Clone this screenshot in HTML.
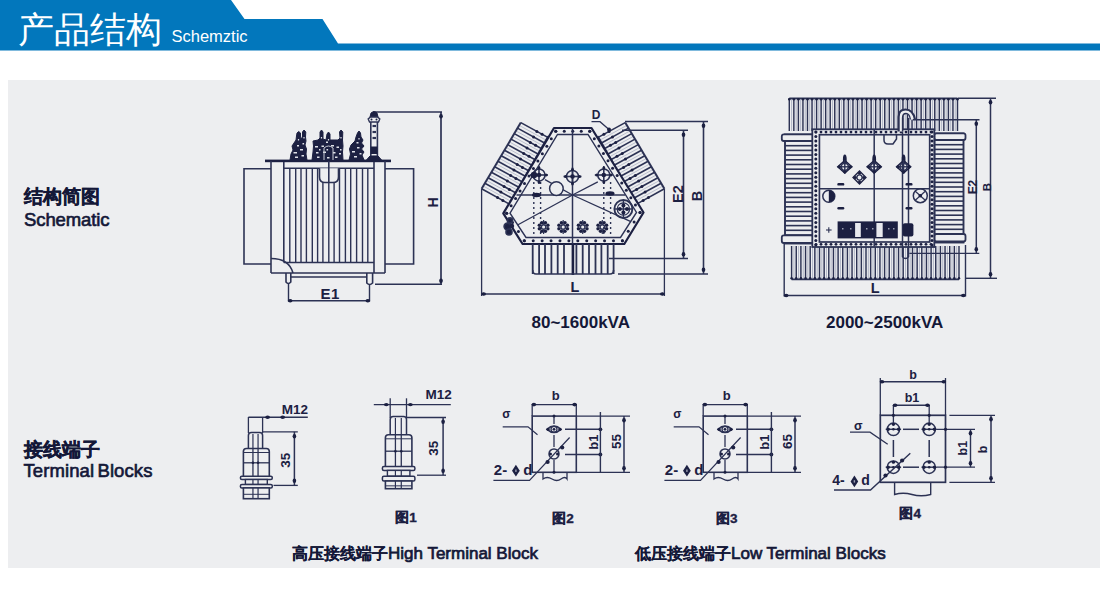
<!DOCTYPE html>
<html><head><meta charset="utf-8">
<style>
html,body{margin:0;padding:0;background:#fff;width:1100px;height:598px;overflow:hidden}
body{position:relative;font-family:"Liberation Sans",sans-serif}
svg{position:absolute;left:0;top:0}
svg text{font-family:"Liberation Sans",sans-serif}
.t{position:absolute;white-space:nowrap;line-height:1;color:#141838}
</style></head><body>
<svg width="1100" height="598" viewBox="0 0 1100 598">
<polygon points="0,0 231,0 244.5,19 322.5,19 338,43.6 1100,43.6 1100,50.5 0,50.5" fill="#0277bc"/>
<rect x="8" y="80" width="1092" height="488" fill="#edeef0"/>
<path d="M271 168.7 H244 V264 H271" fill="none" stroke="#2c3254" stroke-width="1.6" />
<path d="M385 168.7 H413.6 V264 H385" fill="none" stroke="#2c3254" stroke-width="1.6" />
<rect x="265.00" y="159.60" width="126.00" height="2.60" rx="0" fill="#1c2042" stroke="#2c3254" stroke-width="0"/>
<line x1="271.00" y1="161.00" x2="271.00" y2="273.00" stroke="#2c3254" stroke-width="1.6" />
<line x1="385.00" y1="161.00" x2="385.00" y2="273.00" stroke="#2c3254" stroke-width="1.6" />
<line x1="283.80" y1="162.00" x2="283.80" y2="262.50" stroke="#2c3254" stroke-width="1.6" />
<line x1="374.00" y1="162.00" x2="374.00" y2="273.00" stroke="#2c3254" stroke-width="1.6" />
<line x1="283.80" y1="168.20" x2="374.00" y2="168.20" stroke="#2c3254" stroke-width="1.6" />
<line x1="289.80" y1="168.00" x2="289.80" y2="262.50" stroke="#2c3254" stroke-width="1.4" />
<line x1="295.70" y1="168.00" x2="295.70" y2="262.50" stroke="#2c3254" stroke-width="1.4" />
<line x1="301.00" y1="168.00" x2="301.00" y2="262.50" stroke="#2c3254" stroke-width="1.4" />
<line x1="306.40" y1="168.00" x2="306.40" y2="262.50" stroke="#2c3254" stroke-width="1.4" />
<line x1="312.30" y1="168.00" x2="312.30" y2="262.50" stroke="#2c3254" stroke-width="1.4" />
<line x1="317.60" y1="168.00" x2="317.60" y2="262.50" stroke="#2c3254" stroke-width="1.4" />
<line x1="322.90" y1="168.00" x2="322.90" y2="262.50" stroke="#2c3254" stroke-width="1.4" />
<line x1="328.80" y1="168.00" x2="328.80" y2="262.50" stroke="#2c3254" stroke-width="1.4" />
<line x1="334.10" y1="168.00" x2="334.10" y2="262.50" stroke="#2c3254" stroke-width="1.4" />
<line x1="339.50" y1="168.00" x2="339.50" y2="262.50" stroke="#2c3254" stroke-width="1.4" />
<line x1="345.40" y1="168.00" x2="345.40" y2="262.50" stroke="#2c3254" stroke-width="1.4" />
<line x1="350.70" y1="168.00" x2="350.70" y2="262.50" stroke="#2c3254" stroke-width="1.4" />
<line x1="356.60" y1="168.00" x2="356.60" y2="262.50" stroke="#2c3254" stroke-width="1.4" />
<line x1="362.50" y1="168.00" x2="362.50" y2="262.50" stroke="#2c3254" stroke-width="1.4" />
<line x1="367.80" y1="168.00" x2="367.80" y2="262.50" stroke="#2c3254" stroke-width="1.4" />
<line x1="283.80" y1="262.50" x2="374.00" y2="262.50" stroke="#2c3254" stroke-width="1.6" />
<path d="M319.5 168.2 V177 Q319.5 182.5 325 182.5 H333 Q338.5 182.5 338.5 177 V168.2" fill="#edeef0" stroke="#2c3254" stroke-width="1.6" />
<line x1="328.80" y1="161.00" x2="328.80" y2="182.50" stroke="#2c3254" stroke-width="1.6" />
<path d="M271 258.5 Q289 258.5 293 273" fill="none" stroke="#2c3254" stroke-width="1.6" />
<line x1="271.00" y1="273.00" x2="385.00" y2="273.00" stroke="#2c3254" stroke-width="1.6" />
<line x1="290.00" y1="277.00" x2="367.00" y2="277.00" stroke="#2c3254" stroke-width="1.3" />
<path d="M286 273 V282 Q288.3 285 290.8 282 V273" fill="none" stroke="#2c3254" stroke-width="1.6" />
<path d="M366.8 273 V283 Q369.6 286 372.6 283 V273" fill="none" stroke="#2c3254" stroke-width="1.6" />
<line x1="288.50" y1="283.00" x2="288.50" y2="301.50" stroke="#2c3254" stroke-width="1.4" />
<line x1="369.50" y1="285.00" x2="369.50" y2="301.50" stroke="#2c3254" stroke-width="1.4" />
<line x1="288.50" y1="300.70" x2="369.50" y2="300.70" stroke="#2c3254" stroke-width="1.5" />
<ellipse cx="290.20" cy="300.7" rx="2.3" ry="1.8" fill="#1c2042"/>
<path d="M288.20 300.7 L290.20 299.2 L290.20 302.2 Z" fill="#1c2042"/>
<ellipse cx="367.80" cy="300.7" rx="2.3" ry="1.8" fill="#1c2042"/>
<path d="M369.80 300.7 L367.80 299.2 L367.80 302.2 Z" fill="#1c2042"/>
<text x="330.3" y="299.2" font-size="15" font-weight="bold" text-anchor="middle" fill="#1c2042" letter-spacing="0.6">E1</text>
<line x1="373.00" y1="112.00" x2="442.00" y2="112.00" stroke="#2c3254" stroke-width="1.5" />
<line x1="441.00" y1="112.00" x2="441.00" y2="284.50" stroke="#2c3254" stroke-width="1.7" />
<line x1="375.00" y1="284.20" x2="442.00" y2="284.20" stroke="#2c3254" stroke-width="1.5" />
<ellipse cx="441" cy="116.20" rx="1.8" ry="2.3" fill="#1c2042"/>
<path d="M441 114.20 L439.5 116.20 L442.5 116.20 Z" fill="#1c2042"/>
<ellipse cx="441" cy="280.80" rx="1.8" ry="2.3" fill="#1c2042"/>
<path d="M441 282.80 L439.5 280.80 L442.5 280.80 Z" fill="#1c2042"/>
<text x="437.5" y="202.5" font-size="14" font-weight="bold" text-anchor="middle" fill="#1c2042" transform="rotate(-90 437.5 202.5)" >H</text>
<path d="M370.8 160 V122 M377.4 160 V122" fill="none" stroke="#2c3254" stroke-width="1.6" />
<path d="M370 117 L371 113 L373 111.8 L375 111.8 L377 113 L378 117 Z" fill="#1c2042" stroke="#1c2042" stroke-width="1" stroke-linejoin="round"/>
<path d="M369.5 122 L368.2 119 L370.5 117 H377.5 L379.8 119 L378.5 122 Z" fill="#edeef0" stroke="#2c3254" stroke-width="1.4" />
<circle cx="371.50" cy="119.50" r="1.00" fill="#1c2042"/>
<circle cx="376.50" cy="119.50" r="1.00" fill="#1c2042"/>
<line x1="372.50" y1="126.00" x2="376.00" y2="126.00" stroke="#2c3254" stroke-width="2.2" />
<line x1="372.50" y1="132.00" x2="376.00" y2="132.00" stroke="#2c3254" stroke-width="2.2" />
<line x1="372.50" y1="138.00" x2="376.00" y2="138.00" stroke="#2c3254" stroke-width="2.2" />
<rect x="370.80" y="146.50" width="6.60" height="7.50" rx="0" fill="#1c2042" stroke="#2c3254" stroke-width="0"/>
<line x1="372.50" y1="155.50" x2="376.00" y2="155.50" stroke="#d0d2dc" stroke-width="1.2" />
<path d="M366 160.5 L370 156 L378 156 L382 160.5 Z" fill="#1c2042" stroke="#1c2042" stroke-width="1" stroke-linejoin="round"/>
<path d="M290 160 L291 154 L293 150 L292 146 L294 143 L296 140 L296.5 136 L297 133 L298.7 131.5 L300.5 133 L300.5 136 L301 139 L302.5 137 L302.5 132 L304 130 L305.8 132 L305.5 137 L306 141 L305 145 L306.5 149 L306 154 L307 160 Z" fill="#1c2042" stroke="#1c2042" stroke-width="1" stroke-linejoin="round"/>
<path d="M312 160 L313 152 L313.5 146 L313 141 L318 140 L320 138 L320 132 L321.5 130 L323 132 L323 139 L326 140 L327 134 L328.5 132 L330 134 L330 140 L335 140 L338 140 L340 138 L339.5 132 L341 130 L342.8 132 L342.5 140 L343 146 L342.5 152 L343 160 Z" fill="#1c2042" stroke="#1c2042" stroke-width="1" stroke-linejoin="round"/>
<path d="M349 160 L350.5 154 L349.5 149 L351 145 L355 141 L356 137 L357.5 133 L359 131 L360.5 133 L361 137 L363 140 L361.5 143 L364 146 L361.5 149 L364 152 L362 155 L364 160 Z" fill="#1c2042" stroke="#1c2042" stroke-width="1" stroke-linejoin="round"/>
<rect x="293.5" y="152" width="3.5" height="1.5" fill="#dfe1e8"/>
<rect x="300" y="149" width="3" height="1.5" fill="#dfe1e8"/>
<rect x="295" y="156.5" width="3" height="1.5" fill="#dfe1e8"/>
<rect x="301.5" y="155" width="2.5" height="1.5" fill="#dfe1e8"/>
<rect x="297" y="145" width="2" height="1.5" fill="#dfe1e8"/>
<rect x="302.5" y="143" width="1.6" height="1.5" fill="#dfe1e8"/>
<rect x="315" y="146" width="3" height="1.5" fill="#dfe1e8"/>
<rect x="321.5" y="145.5" width="2.5" height="1.5" fill="#dfe1e8"/>
<rect x="331" y="145" width="3" height="1.5" fill="#dfe1e8"/>
<rect x="336.5" y="146.5" width="2.5" height="1.5" fill="#dfe1e8"/>
<rect x="316" y="152" width="2.5" height="1.5" fill="#dfe1e8"/>
<rect x="323" y="151.5" width="3" height="1.5" fill="#dfe1e8"/>
<rect x="333" y="152" width="2.5" height="1.5" fill="#dfe1e8"/>
<rect x="339" y="153" width="2" height="1.5" fill="#dfe1e8"/>
<rect x="317" y="156.5" width="2.5" height="1.5" fill="#dfe1e8"/>
<rect x="327" y="157" width="2.5" height="1.5" fill="#dfe1e8"/>
<rect x="335" y="156.5" width="2.5" height="1.5" fill="#dfe1e8"/>
<rect x="326" y="141.5" width="2" height="1.5" fill="#dfe1e8"/>
<rect x="326.5" y="149" width="1.6" height="1.5" fill="#dfe1e8"/>
<rect x="319" y="149" width="1.5" height="1.5" fill="#dfe1e8"/>
<rect x="340" y="149" width="1.5" height="1.5" fill="#dfe1e8"/>
<rect x="352" y="151" width="3" height="1.5" fill="#dfe1e8"/>
<rect x="357" y="147" width="2.5" height="1.5" fill="#dfe1e8"/>
<rect x="354" y="156" width="3" height="1.5" fill="#dfe1e8"/>
<rect x="359.5" y="153" width="2" height="1.5" fill="#dfe1e8"/>
<rect x="356.5" y="142" width="2" height="1.5" fill="#dfe1e8"/>
<rect x="297.9" y="139" width="1.2" height="1.5" fill="#dfe1e8"/>
<rect x="303.4" y="137" width="1.2" height="1.5" fill="#dfe1e8"/>
<rect x="320.9" y="137" width="1.2" height="1.5" fill="#dfe1e8"/>
<rect x="340.4" y="137" width="1.2" height="1.5" fill="#dfe1e8"/>
<rect x="327.9" y="139" width="1.2" height="1.5" fill="#dfe1e8"/>
<rect x="358.4" y="138" width="1.2" height="1.5" fill="#dfe1e8"/>
<path d="M324 160 V148 Q328.5 144 333 148 V160" fill="none" stroke="#c8cbd6" stroke-width="1.0" />
<line x1="520.80" y1="122.60" x2="548.26" y2="137.67" stroke="#2c3254" stroke-width="1.6" />
<line x1="519.17" y1="125.36" x2="546.62" y2="140.43" stroke="#bcc0ce" stroke-width="1.0" />
<line x1="517.53" y1="128.12" x2="544.99" y2="143.18" stroke="#2c3254" stroke-width="1.6" />
<line x1="515.90" y1="130.88" x2="543.35" y2="145.94" stroke="#bcc0ce" stroke-width="1.0" />
<line x1="514.27" y1="133.63" x2="541.71" y2="148.70" stroke="#2c3254" stroke-width="1.6" />
<line x1="512.63" y1="136.39" x2="540.08" y2="151.45" stroke="#bcc0ce" stroke-width="1.0" />
<line x1="511.00" y1="139.15" x2="538.44" y2="154.21" stroke="#2c3254" stroke-width="1.6" />
<line x1="509.37" y1="141.91" x2="536.80" y2="156.97" stroke="#bcc0ce" stroke-width="1.0" />
<line x1="507.73" y1="144.67" x2="535.17" y2="159.72" stroke="#2c3254" stroke-width="1.6" />
<line x1="506.10" y1="147.43" x2="533.53" y2="162.48" stroke="#bcc0ce" stroke-width="1.0" />
<line x1="504.47" y1="150.18" x2="531.89" y2="165.24" stroke="#2c3254" stroke-width="1.6" />
<line x1="502.83" y1="152.94" x2="530.26" y2="167.99" stroke="#bcc0ce" stroke-width="1.0" />
<line x1="501.20" y1="155.70" x2="528.62" y2="170.75" stroke="#2c3254" stroke-width="1.6" />
<line x1="499.57" y1="158.46" x2="526.98" y2="173.51" stroke="#bcc0ce" stroke-width="1.0" />
<line x1="497.93" y1="161.22" x2="525.35" y2="176.26" stroke="#2c3254" stroke-width="1.6" />
<line x1="496.30" y1="163.98" x2="523.71" y2="179.02" stroke="#bcc0ce" stroke-width="1.0" />
<line x1="494.67" y1="166.73" x2="522.07" y2="181.78" stroke="#2c3254" stroke-width="1.6" />
<line x1="493.03" y1="169.49" x2="520.44" y2="184.53" stroke="#bcc0ce" stroke-width="1.0" />
<line x1="491.40" y1="172.25" x2="518.80" y2="187.29" stroke="#2c3254" stroke-width="1.6" />
<line x1="489.77" y1="175.01" x2="517.16" y2="190.05" stroke="#bcc0ce" stroke-width="1.0" />
<line x1="488.13" y1="177.77" x2="515.53" y2="192.80" stroke="#2c3254" stroke-width="1.6" />
<line x1="486.50" y1="180.53" x2="513.89" y2="195.56" stroke="#bcc0ce" stroke-width="1.0" />
<line x1="484.87" y1="183.28" x2="512.26" y2="198.32" stroke="#2c3254" stroke-width="1.6" />
<line x1="483.23" y1="186.04" x2="510.62" y2="201.07" stroke="#bcc0ce" stroke-width="1.0" />
<line x1="481.60" y1="188.80" x2="508.98" y2="203.83" stroke="#2c3254" stroke-width="1.6" />
<line x1="520.80" y1="122.60" x2="481.60" y2="188.80" stroke="#2c3254" stroke-width="2.0" />
<circle cx="542.12" cy="134.30" r="1.50" fill="#1c2042"/>
<circle cx="536.86" cy="131.42" r="1.50" fill="#1c2042"/>
<circle cx="533.59" cy="136.93" r="1.50" fill="#1c2042"/>
<circle cx="535.58" cy="145.33" r="1.50" fill="#1c2042"/>
<circle cx="530.32" cy="142.44" r="1.50" fill="#1c2042"/>
<circle cx="527.04" cy="147.96" r="1.50" fill="#1c2042"/>
<circle cx="529.03" cy="156.36" r="1.50" fill="#1c2042"/>
<circle cx="523.77" cy="153.47" r="1.50" fill="#1c2042"/>
<circle cx="520.50" cy="158.98" r="1.50" fill="#1c2042"/>
<circle cx="522.48" cy="167.38" r="1.50" fill="#1c2042"/>
<circle cx="517.22" cy="164.50" r="1.50" fill="#1c2042"/>
<circle cx="513.95" cy="170.01" r="1.50" fill="#1c2042"/>
<circle cx="515.94" cy="178.41" r="1.50" fill="#1c2042"/>
<circle cx="510.68" cy="175.52" r="1.50" fill="#1c2042"/>
<circle cx="507.40" cy="181.03" r="1.50" fill="#1c2042"/>
<circle cx="509.39" cy="189.43" r="1.50" fill="#1c2042"/>
<circle cx="504.13" cy="186.55" r="1.50" fill="#1c2042"/>
<circle cx="500.86" cy="192.06" r="1.50" fill="#1c2042"/>
<circle cx="502.85" cy="200.46" r="1.50" fill="#1c2042"/>
<circle cx="497.59" cy="197.57" r="1.50" fill="#1c2042"/>
<line x1="548.00" y1="136.00" x2="510.00" y2="203.00" stroke="#2c3254" stroke-width="1.4" />
<line x1="481.60" y1="188.80" x2="481.60" y2="296.00" stroke="#2c3254" stroke-width="1.3" />
<line x1="625.20" y1="122.60" x2="597.74" y2="137.67" stroke="#2c3254" stroke-width="1.6" />
<line x1="626.83" y1="125.36" x2="599.38" y2="140.43" stroke="#bcc0ce" stroke-width="1.0" />
<line x1="628.47" y1="128.12" x2="601.01" y2="143.18" stroke="#2c3254" stroke-width="1.6" />
<line x1="630.10" y1="130.88" x2="602.65" y2="145.94" stroke="#bcc0ce" stroke-width="1.0" />
<line x1="631.73" y1="133.63" x2="604.29" y2="148.70" stroke="#2c3254" stroke-width="1.6" />
<line x1="633.37" y1="136.39" x2="605.92" y2="151.45" stroke="#bcc0ce" stroke-width="1.0" />
<line x1="635.00" y1="139.15" x2="607.56" y2="154.21" stroke="#2c3254" stroke-width="1.6" />
<line x1="636.63" y1="141.91" x2="609.20" y2="156.97" stroke="#bcc0ce" stroke-width="1.0" />
<line x1="638.27" y1="144.67" x2="610.83" y2="159.72" stroke="#2c3254" stroke-width="1.6" />
<line x1="639.90" y1="147.43" x2="612.47" y2="162.48" stroke="#bcc0ce" stroke-width="1.0" />
<line x1="641.53" y1="150.18" x2="614.11" y2="165.24" stroke="#2c3254" stroke-width="1.6" />
<line x1="643.17" y1="152.94" x2="615.74" y2="167.99" stroke="#bcc0ce" stroke-width="1.0" />
<line x1="644.80" y1="155.70" x2="617.38" y2="170.75" stroke="#2c3254" stroke-width="1.6" />
<line x1="646.43" y1="158.46" x2="619.02" y2="173.51" stroke="#bcc0ce" stroke-width="1.0" />
<line x1="648.07" y1="161.22" x2="620.65" y2="176.26" stroke="#2c3254" stroke-width="1.6" />
<line x1="649.70" y1="163.98" x2="622.29" y2="179.02" stroke="#bcc0ce" stroke-width="1.0" />
<line x1="651.33" y1="166.73" x2="623.93" y2="181.78" stroke="#2c3254" stroke-width="1.6" />
<line x1="652.97" y1="169.49" x2="625.56" y2="184.53" stroke="#bcc0ce" stroke-width="1.0" />
<line x1="654.60" y1="172.25" x2="627.20" y2="187.29" stroke="#2c3254" stroke-width="1.6" />
<line x1="656.23" y1="175.01" x2="628.84" y2="190.05" stroke="#bcc0ce" stroke-width="1.0" />
<line x1="657.87" y1="177.77" x2="630.47" y2="192.80" stroke="#2c3254" stroke-width="1.6" />
<line x1="659.50" y1="180.53" x2="632.11" y2="195.56" stroke="#bcc0ce" stroke-width="1.0" />
<line x1="661.13" y1="183.28" x2="633.74" y2="198.32" stroke="#2c3254" stroke-width="1.6" />
<line x1="662.77" y1="186.04" x2="635.38" y2="201.07" stroke="#bcc0ce" stroke-width="1.0" />
<line x1="664.40" y1="188.80" x2="637.02" y2="203.83" stroke="#2c3254" stroke-width="1.6" />
<line x1="625.20" y1="122.60" x2="664.40" y2="188.80" stroke="#2c3254" stroke-width="2.0" />
<circle cx="603.88" cy="134.30" r="1.50" fill="#1c2042"/>
<circle cx="609.14" cy="131.42" r="1.50" fill="#1c2042"/>
<circle cx="612.41" cy="136.93" r="1.50" fill="#1c2042"/>
<circle cx="610.42" cy="145.33" r="1.50" fill="#1c2042"/>
<circle cx="615.68" cy="142.44" r="1.50" fill="#1c2042"/>
<circle cx="618.96" cy="147.96" r="1.50" fill="#1c2042"/>
<circle cx="616.97" cy="156.36" r="1.50" fill="#1c2042"/>
<circle cx="622.23" cy="153.47" r="1.50" fill="#1c2042"/>
<circle cx="625.50" cy="158.98" r="1.50" fill="#1c2042"/>
<circle cx="623.52" cy="167.38" r="1.50" fill="#1c2042"/>
<circle cx="628.78" cy="164.50" r="1.50" fill="#1c2042"/>
<circle cx="632.05" cy="170.01" r="1.50" fill="#1c2042"/>
<circle cx="630.06" cy="178.41" r="1.50" fill="#1c2042"/>
<circle cx="635.32" cy="175.52" r="1.50" fill="#1c2042"/>
<circle cx="638.60" cy="181.03" r="1.50" fill="#1c2042"/>
<circle cx="636.61" cy="189.43" r="1.50" fill="#1c2042"/>
<circle cx="641.87" cy="186.55" r="1.50" fill="#1c2042"/>
<circle cx="645.14" cy="192.06" r="1.50" fill="#1c2042"/>
<circle cx="643.15" cy="200.46" r="1.50" fill="#1c2042"/>
<circle cx="648.41" cy="197.57" r="1.50" fill="#1c2042"/>
<line x1="598.00" y1="136.00" x2="636.00" y2="203.00" stroke="#2c3254" stroke-width="1.4" />
<line x1="664.40" y1="188.80" x2="664.40" y2="296.00" stroke="#2c3254" stroke-width="1.3" />
<polygon points="554,128 591.5,128 643.5,212.5 624.3,244 522.6,244 503.3,213.4" fill="#edeef0" stroke="#1c2042" stroke-width="2.2" stroke-linejoin="round"/>
<polygon points="557.5,134.5 588,134.5 636.5,212.5 620.5,237.5 526,237.5 510,213.2" fill="none" stroke="#2c3254" stroke-width="1.4"/>
<circle cx="555.75" cy="131.25" r="1.50" fill="#1c2042"/>
<circle cx="564.25" cy="131.25" r="1.50" fill="#1c2042"/>
<circle cx="572.75" cy="131.25" r="1.50" fill="#1c2042"/>
<circle cx="581.25" cy="131.25" r="1.50" fill="#1c2042"/>
<circle cx="589.75" cy="131.25" r="1.50" fill="#1c2042"/>
<circle cx="589.75" cy="131.25" r="1.50" fill="#1c2042"/>
<circle cx="594.32" cy="138.64" r="1.50" fill="#1c2042"/>
<circle cx="598.89" cy="146.02" r="1.50" fill="#1c2042"/>
<circle cx="603.45" cy="153.41" r="1.50" fill="#1c2042"/>
<circle cx="608.02" cy="160.80" r="1.50" fill="#1c2042"/>
<circle cx="612.59" cy="168.18" r="1.50" fill="#1c2042"/>
<circle cx="617.16" cy="175.57" r="1.50" fill="#1c2042"/>
<circle cx="621.73" cy="182.95" r="1.50" fill="#1c2042"/>
<circle cx="626.30" cy="190.34" r="1.50" fill="#1c2042"/>
<circle cx="630.86" cy="197.73" r="1.50" fill="#1c2042"/>
<circle cx="635.43" cy="205.11" r="1.50" fill="#1c2042"/>
<circle cx="640.00" cy="212.50" r="1.50" fill="#1c2042"/>
<circle cx="640.00" cy="212.50" r="1.50" fill="#1c2042"/>
<circle cx="634.13" cy="221.92" r="1.50" fill="#1c2042"/>
<circle cx="628.27" cy="231.33" r="1.50" fill="#1c2042"/>
<circle cx="622.40" cy="240.75" r="1.50" fill="#1c2042"/>
<circle cx="622.40" cy="240.75" r="1.50" fill="#1c2042"/>
<circle cx="613.48" cy="240.75" r="1.50" fill="#1c2042"/>
<circle cx="604.56" cy="240.75" r="1.50" fill="#1c2042"/>
<circle cx="595.65" cy="240.75" r="1.50" fill="#1c2042"/>
<circle cx="586.73" cy="240.75" r="1.50" fill="#1c2042"/>
<circle cx="577.81" cy="240.75" r="1.50" fill="#1c2042"/>
<circle cx="568.89" cy="240.75" r="1.50" fill="#1c2042"/>
<circle cx="559.97" cy="240.75" r="1.50" fill="#1c2042"/>
<circle cx="551.05" cy="240.75" r="1.50" fill="#1c2042"/>
<circle cx="542.14" cy="240.75" r="1.50" fill="#1c2042"/>
<circle cx="533.22" cy="240.75" r="1.50" fill="#1c2042"/>
<circle cx="524.30" cy="240.75" r="1.50" fill="#1c2042"/>
<circle cx="524.30" cy="240.75" r="1.50" fill="#1c2042"/>
<circle cx="518.42" cy="231.60" r="1.50" fill="#1c2042"/>
<circle cx="512.53" cy="222.45" r="1.50" fill="#1c2042"/>
<circle cx="506.65" cy="213.30" r="1.50" fill="#1c2042"/>
<circle cx="506.65" cy="213.30" r="1.50" fill="#1c2042"/>
<circle cx="511.11" cy="205.84" r="1.50" fill="#1c2042"/>
<circle cx="515.58" cy="198.38" r="1.50" fill="#1c2042"/>
<circle cx="520.04" cy="190.92" r="1.50" fill="#1c2042"/>
<circle cx="524.50" cy="183.46" r="1.50" fill="#1c2042"/>
<circle cx="528.97" cy="176.00" r="1.50" fill="#1c2042"/>
<circle cx="533.43" cy="168.55" r="1.50" fill="#1c2042"/>
<circle cx="537.90" cy="161.09" r="1.50" fill="#1c2042"/>
<circle cx="542.36" cy="153.63" r="1.50" fill="#1c2042"/>
<circle cx="546.82" cy="146.17" r="1.50" fill="#1c2042"/>
<circle cx="551.29" cy="138.71" r="1.50" fill="#1c2042"/>
<circle cx="555.75" cy="131.25" r="1.50" fill="#1c2042"/>
<line x1="572.50" y1="128.00" x2="572.50" y2="275.00" stroke="#2c3254" stroke-width="1.5" />
<line x1="572.50" y1="195.00" x2="518.00" y2="224.70" stroke="#2c3254" stroke-width="1.3" />
<line x1="572.50" y1="195.00" x2="630.90" y2="221.70" stroke="#2c3254" stroke-width="1.3" />
<line x1="572.50" y1="195.00" x2="545.00" y2="179.60" stroke="#2c3254" stroke-width="1.3" />
<line x1="572.50" y1="195.00" x2="597.80" y2="181.80" stroke="#2c3254" stroke-width="1.3" />
<line x1="516.50" y1="195.00" x2="625.00" y2="195.00" stroke="#2c3254" stroke-width="1.3" />
<line x1="533.80" y1="182.00" x2="533.80" y2="237.00" stroke="#2c3254" stroke-width="1.4" stroke-dasharray="2 3"/>
<line x1="540.60" y1="182.00" x2="540.60" y2="237.00" stroke="#2c3254" stroke-width="1.4" stroke-dasharray="2 3"/>
<line x1="603.80" y1="182.00" x2="603.80" y2="237.00" stroke="#2c3254" stroke-width="1.4" stroke-dasharray="2 3"/>
<line x1="610.60" y1="182.00" x2="610.60" y2="237.00" stroke="#2c3254" stroke-width="1.4" stroke-dasharray="2 3"/>
<ellipse cx="536.5" cy="195" rx="4.5" ry="2.2" fill="#1c2042"/>
<ellipse cx="610" cy="193.5" rx="4.5" ry="2.2" fill="#1c2042"/>
<circle cx="539.00" cy="175.00" r="6.00" fill="none" stroke="#2c3254" stroke-width="1.6"/>
<line x1="530.00" y1="175.00" x2="548.00" y2="175.00" stroke="#2c3254" stroke-width="1.6" />
<line x1="539.00" y1="166.00" x2="539.00" y2="184.00" stroke="#2c3254" stroke-width="1.6" />
<circle cx="539.00" cy="175.00" r="2.30" fill="#1c2042"/>
<circle cx="532.00" cy="175.00" r="1.50" fill="#1c2042"/>
<circle cx="546.00" cy="175.00" r="1.50" fill="#1c2042"/>
<circle cx="539.00" cy="168.00" r="1.50" fill="#1c2042"/>
<circle cx="539.00" cy="182.00" r="1.50" fill="#1c2042"/>
<circle cx="572.50" cy="176.50" r="6.00" fill="none" stroke="#2c3254" stroke-width="1.6"/>
<line x1="563.50" y1="176.50" x2="581.50" y2="176.50" stroke="#2c3254" stroke-width="1.6" />
<line x1="572.50" y1="167.50" x2="572.50" y2="185.50" stroke="#2c3254" stroke-width="1.6" />
<circle cx="572.50" cy="176.50" r="2.30" fill="#1c2042"/>
<circle cx="565.50" cy="176.50" r="1.50" fill="#1c2042"/>
<circle cx="579.50" cy="176.50" r="1.50" fill="#1c2042"/>
<circle cx="572.50" cy="169.50" r="1.50" fill="#1c2042"/>
<circle cx="572.50" cy="183.50" r="1.50" fill="#1c2042"/>
<circle cx="603.80" cy="175.00" r="6.00" fill="none" stroke="#2c3254" stroke-width="1.6"/>
<line x1="594.80" y1="175.00" x2="612.80" y2="175.00" stroke="#2c3254" stroke-width="1.6" />
<line x1="603.80" y1="166.00" x2="603.80" y2="184.00" stroke="#2c3254" stroke-width="1.6" />
<circle cx="603.80" cy="175.00" r="2.30" fill="#1c2042"/>
<circle cx="596.80" cy="175.00" r="1.50" fill="#1c2042"/>
<circle cx="610.80" cy="175.00" r="1.50" fill="#1c2042"/>
<circle cx="603.80" cy="168.00" r="1.50" fill="#1c2042"/>
<circle cx="603.80" cy="182.00" r="1.50" fill="#1c2042"/>
<circle cx="534.00" cy="175.00" r="3.20" fill="#1c2042"/>
<circle cx="556.40" cy="188.60" r="6.80" fill="#edeef0" stroke="#2c3254" stroke-width="1.5"/>
<circle cx="623.40" cy="209.00" r="9.00" fill="none" stroke="#2c3254" stroke-width="1.9"/>
<circle cx="623.40" cy="209.00" r="6.20" fill="none" stroke="#2c3254" stroke-width="1.2"/>
<line x1="614.50" y1="209.00" x2="632.30" y2="209.00" stroke="#2c3254" stroke-width="1.4" />
<line x1="623.40" y1="200.00" x2="623.40" y2="218.00" stroke="#2c3254" stroke-width="1.4" />
<circle cx="623.40" cy="205.40" r="2.00" fill="#1c2042"/>
<circle cx="623.40" cy="212.60" r="2.00" fill="#1c2042"/>
<circle cx="619.80" cy="209.00" r="2.00" fill="#1c2042"/>
<circle cx="627.00" cy="209.00" r="2.00" fill="#1c2042"/>
<circle cx="547.85" cy="228.76" r="1.75" fill="#1c2042"/>
<circle cx="545.36" cy="231.25" r="1.75" fill="#1c2042"/>
<circle cx="541.84" cy="231.25" r="1.75" fill="#1c2042"/>
<circle cx="539.35" cy="228.76" r="1.75" fill="#1c2042"/>
<circle cx="539.35" cy="225.24" r="1.75" fill="#1c2042"/>
<circle cx="541.84" cy="222.75" r="1.75" fill="#1c2042"/>
<circle cx="545.36" cy="222.75" r="1.75" fill="#1c2042"/>
<circle cx="547.85" cy="225.24" r="1.75" fill="#1c2042"/>
<circle cx="543.60" cy="227.00" r="2.30" fill="none" stroke="#2c3254" stroke-width="1.5"/>
<line x1="543.60" y1="220.00" x2="543.60" y2="224.00" stroke="#2c3254" stroke-width="1.2" />
<line x1="543.60" y1="230.00" x2="543.60" y2="234.00" stroke="#2c3254" stroke-width="1.2" />
<circle cx="567.45" cy="228.76" r="1.75" fill="#1c2042"/>
<circle cx="564.96" cy="231.25" r="1.75" fill="#1c2042"/>
<circle cx="561.44" cy="231.25" r="1.75" fill="#1c2042"/>
<circle cx="558.95" cy="228.76" r="1.75" fill="#1c2042"/>
<circle cx="558.95" cy="225.24" r="1.75" fill="#1c2042"/>
<circle cx="561.44" cy="222.75" r="1.75" fill="#1c2042"/>
<circle cx="564.96" cy="222.75" r="1.75" fill="#1c2042"/>
<circle cx="567.45" cy="225.24" r="1.75" fill="#1c2042"/>
<circle cx="563.20" cy="227.00" r="2.30" fill="none" stroke="#2c3254" stroke-width="1.5"/>
<line x1="563.20" y1="220.00" x2="563.20" y2="224.00" stroke="#2c3254" stroke-width="1.2" />
<line x1="563.20" y1="230.00" x2="563.20" y2="234.00" stroke="#2c3254" stroke-width="1.2" />
<circle cx="586.95" cy="228.76" r="1.75" fill="#1c2042"/>
<circle cx="584.46" cy="231.25" r="1.75" fill="#1c2042"/>
<circle cx="580.94" cy="231.25" r="1.75" fill="#1c2042"/>
<circle cx="578.45" cy="228.76" r="1.75" fill="#1c2042"/>
<circle cx="578.45" cy="225.24" r="1.75" fill="#1c2042"/>
<circle cx="580.94" cy="222.75" r="1.75" fill="#1c2042"/>
<circle cx="584.46" cy="222.75" r="1.75" fill="#1c2042"/>
<circle cx="586.95" cy="225.24" r="1.75" fill="#1c2042"/>
<circle cx="582.70" cy="227.00" r="2.30" fill="none" stroke="#2c3254" stroke-width="1.5"/>
<line x1="582.70" y1="220.00" x2="582.70" y2="224.00" stroke="#2c3254" stroke-width="1.2" />
<line x1="582.70" y1="230.00" x2="582.70" y2="234.00" stroke="#2c3254" stroke-width="1.2" />
<circle cx="606.55" cy="228.76" r="1.75" fill="#1c2042"/>
<circle cx="604.06" cy="231.25" r="1.75" fill="#1c2042"/>
<circle cx="600.54" cy="231.25" r="1.75" fill="#1c2042"/>
<circle cx="598.05" cy="228.76" r="1.75" fill="#1c2042"/>
<circle cx="598.05" cy="225.24" r="1.75" fill="#1c2042"/>
<circle cx="600.54" cy="222.75" r="1.75" fill="#1c2042"/>
<circle cx="604.06" cy="222.75" r="1.75" fill="#1c2042"/>
<circle cx="606.55" cy="225.24" r="1.75" fill="#1c2042"/>
<circle cx="602.30" cy="227.00" r="2.30" fill="none" stroke="#2c3254" stroke-width="1.5"/>
<line x1="602.30" y1="220.00" x2="602.30" y2="224.00" stroke="#2c3254" stroke-width="1.2" />
<line x1="602.30" y1="230.00" x2="602.30" y2="234.00" stroke="#2c3254" stroke-width="1.2" />
<circle cx="507.50" cy="226.50" r="3.40" fill="#1c2042" stroke="#2c3254" stroke-width="1.6"/>
<circle cx="510.00" cy="220.50" r="2.60" fill="#1c2042" stroke="#2c3254" stroke-width="1.6"/>
<circle cx="509.00" cy="232.00" r="3.00" fill="#1c2042" stroke="#2c3254" stroke-width="1.6"/>
<circle cx="512.00" cy="226.00" r="2.20" fill="#1c2042"/>
<line x1="532.70" y1="244.00" x2="532.70" y2="274.00" stroke="#2c3254" stroke-width="1.8" />
<line x1="539.10" y1="244.00" x2="539.10" y2="274.00" stroke="#2c3254" stroke-width="1.8" />
<line x1="545.00" y1="244.00" x2="545.00" y2="274.00" stroke="#2c3254" stroke-width="1.8" />
<line x1="551.40" y1="244.00" x2="551.40" y2="274.00" stroke="#2c3254" stroke-width="1.8" />
<line x1="557.70" y1="244.00" x2="557.70" y2="274.00" stroke="#2c3254" stroke-width="1.8" />
<line x1="564.00" y1="244.00" x2="564.00" y2="274.00" stroke="#2c3254" stroke-width="1.8" />
<line x1="576.40" y1="244.00" x2="576.40" y2="274.00" stroke="#2c3254" stroke-width="1.8" />
<line x1="582.70" y1="244.00" x2="582.70" y2="274.00" stroke="#2c3254" stroke-width="1.8" />
<line x1="589.00" y1="244.00" x2="589.00" y2="274.00" stroke="#2c3254" stroke-width="1.8" />
<line x1="595.50" y1="244.00" x2="595.50" y2="274.00" stroke="#2c3254" stroke-width="1.8" />
<line x1="601.40" y1="244.00" x2="601.40" y2="274.00" stroke="#2c3254" stroke-width="1.8" />
<line x1="607.70" y1="244.00" x2="607.70" y2="274.00" stroke="#2c3254" stroke-width="1.8" />
<line x1="613.60" y1="244.00" x2="613.60" y2="274.00" stroke="#2c3254" stroke-width="1.8" />
<line x1="573.00" y1="244.00" x2="573.00" y2="275.00" stroke="#1c2042" stroke-width="2.4" />
<path d="M532.7 270 Q532.7 274 536 274 H610 Q613.6 274 613.6 270" fill="none" stroke="#2c3254" stroke-width="1.6" />
<line x1="481.60" y1="294.00" x2="664.40" y2="294.00" stroke="#2c3254" stroke-width="1.5" />
<ellipse cx="483.70" cy="294" rx="2.3" ry="1.8" fill="#1c2042"/>
<path d="M481.70 294 L483.70 292.5 L483.70 295.5 Z" fill="#1c2042"/>
<ellipse cx="662.30" cy="294" rx="2.3" ry="1.8" fill="#1c2042"/>
<path d="M664.30 294 L662.30 292.5 L662.30 295.5 Z" fill="#1c2042"/>
<text x="575" y="292.3" font-size="14.5" font-weight="bold" text-anchor="middle" fill="#1c2042" >L</text>
<line x1="625.00" y1="121.50" x2="708.00" y2="121.50" stroke="#2c3254" stroke-width="1.4" />
<line x1="618.00" y1="274.00" x2="708.00" y2="274.00" stroke="#2c3254" stroke-width="1.4" />
<line x1="703.50" y1="121.50" x2="703.50" y2="274.00" stroke="#2c3254" stroke-width="1.6" />
<ellipse cx="703.5" cy="125.70" rx="1.8" ry="2.3" fill="#1c2042"/>
<path d="M703.5 123.70 L702.0 125.70 L705.0 125.70 Z" fill="#1c2042"/>
<ellipse cx="703.5" cy="269.80" rx="1.8" ry="2.3" fill="#1c2042"/>
<path d="M703.5 271.80 L702.0 269.80 L705.0 269.80 Z" fill="#1c2042"/>
<text x="701.6" y="196" font-size="14.5" font-weight="bold" text-anchor="middle" fill="#1c2042" transform="rotate(-90 701.6 196)" >B</text>
<line x1="622.00" y1="130.30" x2="688.00" y2="130.30" stroke="#2c3254" stroke-width="1.4" />
<line x1="609.00" y1="258.50" x2="688.00" y2="258.50" stroke="#2c3254" stroke-width="1.4" />
<line x1="683.50" y1="130.30" x2="683.50" y2="258.50" stroke="#2c3254" stroke-width="1.6" />
<ellipse cx="683.5" cy="134.70" rx="1.8" ry="2.3" fill="#1c2042"/>
<path d="M683.5 132.70 L682.0 134.70 L685.0 134.70 Z" fill="#1c2042"/>
<ellipse cx="683.5" cy="254.30" rx="1.8" ry="2.3" fill="#1c2042"/>
<path d="M683.5 256.30 L682.0 254.30 L685.0 254.30 Z" fill="#1c2042"/>
<text x="682.8" y="194.1" font-size="14.5" font-weight="bold" text-anchor="middle" fill="#1c2042" transform="rotate(-90 682.8 194.1)" >E2</text>
<text x="596" y="118.5" font-size="12" font-weight="bold" text-anchor="middle" fill="#1c2042" >D</text>
<path d="M591.5 121.7 H600 L609 129.5" fill="none" stroke="#2c3254" stroke-width="1.3" />
<circle cx="609.00" cy="129.50" r="2.00" fill="#1c2042"/>
<line x1="791.57" y1="98.30" x2="791.57" y2="131.00" stroke="#b4b8c8" stroke-width="1.1" />
<line x1="796.12" y1="98.30" x2="796.12" y2="131.00" stroke="#b4b8c8" stroke-width="1.1" />
<line x1="800.66" y1="98.30" x2="800.66" y2="131.00" stroke="#b4b8c8" stroke-width="1.1" />
<line x1="805.21" y1="98.30" x2="805.21" y2="131.00" stroke="#b4b8c8" stroke-width="1.1" />
<line x1="809.76" y1="98.30" x2="809.76" y2="131.00" stroke="#b4b8c8" stroke-width="1.1" />
<line x1="814.30" y1="98.30" x2="814.30" y2="131.00" stroke="#b4b8c8" stroke-width="1.1" />
<line x1="818.85" y1="98.30" x2="818.85" y2="131.00" stroke="#b4b8c8" stroke-width="1.1" />
<line x1="823.39" y1="98.30" x2="823.39" y2="131.00" stroke="#b4b8c8" stroke-width="1.1" />
<line x1="827.94" y1="98.30" x2="827.94" y2="131.00" stroke="#b4b8c8" stroke-width="1.1" />
<line x1="832.49" y1="98.30" x2="832.49" y2="131.00" stroke="#b4b8c8" stroke-width="1.1" />
<line x1="837.03" y1="98.30" x2="837.03" y2="131.00" stroke="#b4b8c8" stroke-width="1.1" />
<line x1="841.58" y1="98.30" x2="841.58" y2="131.00" stroke="#b4b8c8" stroke-width="1.1" />
<line x1="846.12" y1="98.30" x2="846.12" y2="131.00" stroke="#b4b8c8" stroke-width="1.1" />
<line x1="850.67" y1="98.30" x2="850.67" y2="131.00" stroke="#b4b8c8" stroke-width="1.1" />
<line x1="855.22" y1="98.30" x2="855.22" y2="131.00" stroke="#b4b8c8" stroke-width="1.1" />
<line x1="859.76" y1="98.30" x2="859.76" y2="131.00" stroke="#b4b8c8" stroke-width="1.1" />
<line x1="864.31" y1="98.30" x2="864.31" y2="131.00" stroke="#b4b8c8" stroke-width="1.1" />
<line x1="868.85" y1="98.30" x2="868.85" y2="131.00" stroke="#b4b8c8" stroke-width="1.1" />
<line x1="873.40" y1="98.30" x2="873.40" y2="131.00" stroke="#b4b8c8" stroke-width="1.1" />
<line x1="877.95" y1="98.30" x2="877.95" y2="131.00" stroke="#b4b8c8" stroke-width="1.1" />
<line x1="882.49" y1="98.30" x2="882.49" y2="131.00" stroke="#b4b8c8" stroke-width="1.1" />
<line x1="887.04" y1="98.30" x2="887.04" y2="131.00" stroke="#b4b8c8" stroke-width="1.1" />
<line x1="891.58" y1="98.30" x2="891.58" y2="131.00" stroke="#b4b8c8" stroke-width="1.1" />
<line x1="896.13" y1="98.30" x2="896.13" y2="131.00" stroke="#b4b8c8" stroke-width="1.1" />
<line x1="900.68" y1="98.30" x2="900.68" y2="131.00" stroke="#b4b8c8" stroke-width="1.1" />
<line x1="905.22" y1="98.30" x2="905.22" y2="131.00" stroke="#b4b8c8" stroke-width="1.1" />
<line x1="909.77" y1="98.30" x2="909.77" y2="131.00" stroke="#b4b8c8" stroke-width="1.1" />
<line x1="914.31" y1="98.30" x2="914.31" y2="131.00" stroke="#b4b8c8" stroke-width="1.1" />
<line x1="918.86" y1="98.30" x2="918.86" y2="131.00" stroke="#b4b8c8" stroke-width="1.1" />
<line x1="923.41" y1="98.30" x2="923.41" y2="131.00" stroke="#b4b8c8" stroke-width="1.1" />
<line x1="927.95" y1="98.30" x2="927.95" y2="131.00" stroke="#b4b8c8" stroke-width="1.1" />
<line x1="932.50" y1="98.30" x2="932.50" y2="131.00" stroke="#b4b8c8" stroke-width="1.1" />
<line x1="937.04" y1="98.30" x2="937.04" y2="131.00" stroke="#b4b8c8" stroke-width="1.1" />
<line x1="941.59" y1="98.30" x2="941.59" y2="131.00" stroke="#b4b8c8" stroke-width="1.1" />
<line x1="946.14" y1="98.30" x2="946.14" y2="131.00" stroke="#b4b8c8" stroke-width="1.1" />
<line x1="950.68" y1="98.30" x2="950.68" y2="131.00" stroke="#b4b8c8" stroke-width="1.1" />
<line x1="955.23" y1="98.30" x2="955.23" y2="131.00" stroke="#b4b8c8" stroke-width="1.1" />
<line x1="789.30" y1="98.30" x2="789.30" y2="131.00" stroke="#2c3254" stroke-width="1.45" />
<line x1="793.85" y1="98.30" x2="793.85" y2="131.00" stroke="#2c3254" stroke-width="1.45" />
<line x1="798.39" y1="98.30" x2="798.39" y2="131.00" stroke="#2c3254" stroke-width="1.45" />
<line x1="802.94" y1="98.30" x2="802.94" y2="131.00" stroke="#2c3254" stroke-width="1.45" />
<line x1="807.48" y1="98.30" x2="807.48" y2="131.00" stroke="#2c3254" stroke-width="1.45" />
<line x1="812.03" y1="98.30" x2="812.03" y2="131.00" stroke="#2c3254" stroke-width="1.45" />
<line x1="816.58" y1="98.30" x2="816.58" y2="131.00" stroke="#2c3254" stroke-width="1.45" />
<line x1="821.12" y1="98.30" x2="821.12" y2="131.00" stroke="#2c3254" stroke-width="1.45" />
<line x1="825.67" y1="98.30" x2="825.67" y2="131.00" stroke="#2c3254" stroke-width="1.45" />
<line x1="830.21" y1="98.30" x2="830.21" y2="131.00" stroke="#2c3254" stroke-width="1.45" />
<line x1="834.76" y1="98.30" x2="834.76" y2="131.00" stroke="#2c3254" stroke-width="1.45" />
<line x1="839.31" y1="98.30" x2="839.31" y2="131.00" stroke="#2c3254" stroke-width="1.45" />
<line x1="843.85" y1="98.30" x2="843.85" y2="131.00" stroke="#2c3254" stroke-width="1.45" />
<line x1="848.40" y1="98.30" x2="848.40" y2="131.00" stroke="#2c3254" stroke-width="1.45" />
<line x1="852.94" y1="98.30" x2="852.94" y2="131.00" stroke="#2c3254" stroke-width="1.45" />
<line x1="857.49" y1="98.30" x2="857.49" y2="131.00" stroke="#2c3254" stroke-width="1.45" />
<line x1="862.04" y1="98.30" x2="862.04" y2="131.00" stroke="#2c3254" stroke-width="1.45" />
<line x1="866.58" y1="98.30" x2="866.58" y2="131.00" stroke="#2c3254" stroke-width="1.45" />
<line x1="871.13" y1="98.30" x2="871.13" y2="131.00" stroke="#2c3254" stroke-width="1.45" />
<line x1="875.67" y1="98.30" x2="875.67" y2="131.00" stroke="#2c3254" stroke-width="1.45" />
<line x1="880.22" y1="98.30" x2="880.22" y2="131.00" stroke="#2c3254" stroke-width="1.45" />
<line x1="884.76" y1="98.30" x2="884.76" y2="131.00" stroke="#2c3254" stroke-width="1.45" />
<line x1="889.31" y1="98.30" x2="889.31" y2="131.00" stroke="#2c3254" stroke-width="1.45" />
<line x1="893.86" y1="98.30" x2="893.86" y2="131.00" stroke="#2c3254" stroke-width="1.45" />
<line x1="898.40" y1="98.30" x2="898.40" y2="131.00" stroke="#2c3254" stroke-width="1.45" />
<line x1="902.95" y1="98.30" x2="902.95" y2="131.00" stroke="#2c3254" stroke-width="1.45" />
<line x1="907.49" y1="98.30" x2="907.49" y2="131.00" stroke="#2c3254" stroke-width="1.45" />
<line x1="912.04" y1="98.30" x2="912.04" y2="131.00" stroke="#2c3254" stroke-width="1.45" />
<line x1="916.59" y1="98.30" x2="916.59" y2="131.00" stroke="#2c3254" stroke-width="1.45" />
<line x1="921.13" y1="98.30" x2="921.13" y2="131.00" stroke="#2c3254" stroke-width="1.45" />
<line x1="925.68" y1="98.30" x2="925.68" y2="131.00" stroke="#2c3254" stroke-width="1.45" />
<line x1="930.22" y1="98.30" x2="930.22" y2="131.00" stroke="#2c3254" stroke-width="1.45" />
<line x1="934.77" y1="98.30" x2="934.77" y2="131.00" stroke="#2c3254" stroke-width="1.45" />
<line x1="939.32" y1="98.30" x2="939.32" y2="131.00" stroke="#2c3254" stroke-width="1.45" />
<line x1="943.86" y1="98.30" x2="943.86" y2="131.00" stroke="#2c3254" stroke-width="1.45" />
<line x1="948.41" y1="98.30" x2="948.41" y2="131.00" stroke="#2c3254" stroke-width="1.45" />
<line x1="952.95" y1="98.30" x2="952.95" y2="131.00" stroke="#2c3254" stroke-width="1.45" />
<line x1="957.50" y1="98.30" x2="957.50" y2="131.00" stroke="#2c3254" stroke-width="1.45" />
<line x1="789.30" y1="98.30" x2="957.50" y2="98.30" stroke="#2c3254" stroke-width="1.8" />
<circle cx="789.30" cy="99.30" r="1.30" fill="#1c2042"/>
<circle cx="793.85" cy="99.30" r="1.30" fill="#1c2042"/>
<circle cx="798.39" cy="99.30" r="1.30" fill="#1c2042"/>
<circle cx="802.94" cy="99.30" r="1.30" fill="#1c2042"/>
<circle cx="807.48" cy="99.30" r="1.30" fill="#1c2042"/>
<circle cx="812.03" cy="99.30" r="1.30" fill="#1c2042"/>
<circle cx="816.58" cy="99.30" r="1.30" fill="#1c2042"/>
<circle cx="821.12" cy="99.30" r="1.30" fill="#1c2042"/>
<circle cx="825.67" cy="99.30" r="1.30" fill="#1c2042"/>
<circle cx="830.21" cy="99.30" r="1.30" fill="#1c2042"/>
<circle cx="834.76" cy="99.30" r="1.30" fill="#1c2042"/>
<circle cx="839.31" cy="99.30" r="1.30" fill="#1c2042"/>
<circle cx="843.85" cy="99.30" r="1.30" fill="#1c2042"/>
<circle cx="848.40" cy="99.30" r="1.30" fill="#1c2042"/>
<circle cx="852.94" cy="99.30" r="1.30" fill="#1c2042"/>
<circle cx="857.49" cy="99.30" r="1.30" fill="#1c2042"/>
<circle cx="862.04" cy="99.30" r="1.30" fill="#1c2042"/>
<circle cx="866.58" cy="99.30" r="1.30" fill="#1c2042"/>
<circle cx="871.13" cy="99.30" r="1.30" fill="#1c2042"/>
<circle cx="875.67" cy="99.30" r="1.30" fill="#1c2042"/>
<circle cx="880.22" cy="99.30" r="1.30" fill="#1c2042"/>
<circle cx="884.76" cy="99.30" r="1.30" fill="#1c2042"/>
<circle cx="889.31" cy="99.30" r="1.30" fill="#1c2042"/>
<circle cx="893.86" cy="99.30" r="1.30" fill="#1c2042"/>
<circle cx="898.40" cy="99.30" r="1.30" fill="#1c2042"/>
<circle cx="902.95" cy="99.30" r="1.30" fill="#1c2042"/>
<circle cx="907.49" cy="99.30" r="1.30" fill="#1c2042"/>
<circle cx="912.04" cy="99.30" r="1.30" fill="#1c2042"/>
<circle cx="916.59" cy="99.30" r="1.30" fill="#1c2042"/>
<circle cx="921.13" cy="99.30" r="1.30" fill="#1c2042"/>
<circle cx="925.68" cy="99.30" r="1.30" fill="#1c2042"/>
<circle cx="930.22" cy="99.30" r="1.30" fill="#1c2042"/>
<circle cx="934.77" cy="99.30" r="1.30" fill="#1c2042"/>
<circle cx="939.32" cy="99.30" r="1.30" fill="#1c2042"/>
<circle cx="943.86" cy="99.30" r="1.30" fill="#1c2042"/>
<circle cx="948.41" cy="99.30" r="1.30" fill="#1c2042"/>
<circle cx="952.95" cy="99.30" r="1.30" fill="#1c2042"/>
<circle cx="957.50" cy="99.30" r="1.30" fill="#1c2042"/>
<line x1="793.93" y1="246.00" x2="793.93" y2="279.30" stroke="#b4b8c8" stroke-width="1.1" />
<line x1="798.58" y1="246.00" x2="798.58" y2="279.30" stroke="#b4b8c8" stroke-width="1.1" />
<line x1="803.23" y1="246.00" x2="803.23" y2="279.30" stroke="#b4b8c8" stroke-width="1.1" />
<line x1="807.88" y1="246.00" x2="807.88" y2="279.30" stroke="#b4b8c8" stroke-width="1.1" />
<line x1="812.52" y1="246.00" x2="812.52" y2="279.30" stroke="#b4b8c8" stroke-width="1.1" />
<line x1="817.18" y1="246.00" x2="817.18" y2="279.30" stroke="#b4b8c8" stroke-width="1.1" />
<line x1="821.83" y1="246.00" x2="821.83" y2="279.30" stroke="#b4b8c8" stroke-width="1.1" />
<line x1="826.48" y1="246.00" x2="826.48" y2="279.30" stroke="#b4b8c8" stroke-width="1.1" />
<line x1="831.12" y1="246.00" x2="831.12" y2="279.30" stroke="#b4b8c8" stroke-width="1.1" />
<line x1="835.77" y1="246.00" x2="835.77" y2="279.30" stroke="#b4b8c8" stroke-width="1.1" />
<line x1="840.43" y1="246.00" x2="840.43" y2="279.30" stroke="#b4b8c8" stroke-width="1.1" />
<line x1="845.08" y1="246.00" x2="845.08" y2="279.30" stroke="#b4b8c8" stroke-width="1.1" />
<line x1="849.73" y1="246.00" x2="849.73" y2="279.30" stroke="#b4b8c8" stroke-width="1.1" />
<line x1="854.38" y1="246.00" x2="854.38" y2="279.30" stroke="#b4b8c8" stroke-width="1.1" />
<line x1="859.02" y1="246.00" x2="859.02" y2="279.30" stroke="#b4b8c8" stroke-width="1.1" />
<line x1="863.67" y1="246.00" x2="863.67" y2="279.30" stroke="#b4b8c8" stroke-width="1.1" />
<line x1="868.33" y1="246.00" x2="868.33" y2="279.30" stroke="#b4b8c8" stroke-width="1.1" />
<line x1="872.98" y1="246.00" x2="872.98" y2="279.30" stroke="#b4b8c8" stroke-width="1.1" />
<line x1="877.62" y1="246.00" x2="877.62" y2="279.30" stroke="#b4b8c8" stroke-width="1.1" />
<line x1="882.27" y1="246.00" x2="882.27" y2="279.30" stroke="#b4b8c8" stroke-width="1.1" />
<line x1="886.92" y1="246.00" x2="886.92" y2="279.30" stroke="#b4b8c8" stroke-width="1.1" />
<line x1="891.58" y1="246.00" x2="891.58" y2="279.30" stroke="#b4b8c8" stroke-width="1.1" />
<line x1="896.23" y1="246.00" x2="896.23" y2="279.30" stroke="#b4b8c8" stroke-width="1.1" />
<line x1="900.88" y1="246.00" x2="900.88" y2="279.30" stroke="#b4b8c8" stroke-width="1.1" />
<line x1="905.52" y1="246.00" x2="905.52" y2="279.30" stroke="#b4b8c8" stroke-width="1.1" />
<line x1="910.17" y1="246.00" x2="910.17" y2="279.30" stroke="#b4b8c8" stroke-width="1.1" />
<line x1="914.83" y1="246.00" x2="914.83" y2="279.30" stroke="#b4b8c8" stroke-width="1.1" />
<line x1="919.48" y1="246.00" x2="919.48" y2="279.30" stroke="#b4b8c8" stroke-width="1.1" />
<line x1="924.12" y1="246.00" x2="924.12" y2="279.30" stroke="#b4b8c8" stroke-width="1.1" />
<line x1="928.77" y1="246.00" x2="928.77" y2="279.30" stroke="#b4b8c8" stroke-width="1.1" />
<line x1="933.42" y1="246.00" x2="933.42" y2="279.30" stroke="#b4b8c8" stroke-width="1.1" />
<line x1="938.08" y1="246.00" x2="938.08" y2="279.30" stroke="#b4b8c8" stroke-width="1.1" />
<line x1="942.73" y1="246.00" x2="942.73" y2="279.30" stroke="#b4b8c8" stroke-width="1.1" />
<line x1="947.38" y1="246.00" x2="947.38" y2="279.30" stroke="#b4b8c8" stroke-width="1.1" />
<line x1="952.02" y1="246.00" x2="952.02" y2="279.30" stroke="#b4b8c8" stroke-width="1.1" />
<line x1="956.67" y1="246.00" x2="956.67" y2="279.30" stroke="#b4b8c8" stroke-width="1.1" />
<line x1="791.60" y1="246.00" x2="791.60" y2="279.30" stroke="#2c3254" stroke-width="1.45" />
<line x1="796.25" y1="246.00" x2="796.25" y2="279.30" stroke="#2c3254" stroke-width="1.45" />
<line x1="800.90" y1="246.00" x2="800.90" y2="279.30" stroke="#2c3254" stroke-width="1.45" />
<line x1="805.55" y1="246.00" x2="805.55" y2="279.30" stroke="#2c3254" stroke-width="1.45" />
<line x1="810.20" y1="246.00" x2="810.20" y2="279.30" stroke="#2c3254" stroke-width="1.45" />
<line x1="814.85" y1="246.00" x2="814.85" y2="279.30" stroke="#2c3254" stroke-width="1.45" />
<line x1="819.50" y1="246.00" x2="819.50" y2="279.30" stroke="#2c3254" stroke-width="1.45" />
<line x1="824.15" y1="246.00" x2="824.15" y2="279.30" stroke="#2c3254" stroke-width="1.45" />
<line x1="828.80" y1="246.00" x2="828.80" y2="279.30" stroke="#2c3254" stroke-width="1.45" />
<line x1="833.45" y1="246.00" x2="833.45" y2="279.30" stroke="#2c3254" stroke-width="1.45" />
<line x1="838.10" y1="246.00" x2="838.10" y2="279.30" stroke="#2c3254" stroke-width="1.45" />
<line x1="842.75" y1="246.00" x2="842.75" y2="279.30" stroke="#2c3254" stroke-width="1.45" />
<line x1="847.40" y1="246.00" x2="847.40" y2="279.30" stroke="#2c3254" stroke-width="1.45" />
<line x1="852.05" y1="246.00" x2="852.05" y2="279.30" stroke="#2c3254" stroke-width="1.45" />
<line x1="856.70" y1="246.00" x2="856.70" y2="279.30" stroke="#2c3254" stroke-width="1.45" />
<line x1="861.35" y1="246.00" x2="861.35" y2="279.30" stroke="#2c3254" stroke-width="1.45" />
<line x1="866.00" y1="246.00" x2="866.00" y2="279.30" stroke="#2c3254" stroke-width="1.45" />
<line x1="870.65" y1="246.00" x2="870.65" y2="279.30" stroke="#2c3254" stroke-width="1.45" />
<line x1="875.30" y1="246.00" x2="875.30" y2="279.30" stroke="#2c3254" stroke-width="1.45" />
<line x1="879.95" y1="246.00" x2="879.95" y2="279.30" stroke="#2c3254" stroke-width="1.45" />
<line x1="884.60" y1="246.00" x2="884.60" y2="279.30" stroke="#2c3254" stroke-width="1.45" />
<line x1="889.25" y1="246.00" x2="889.25" y2="279.30" stroke="#2c3254" stroke-width="1.45" />
<line x1="893.90" y1="246.00" x2="893.90" y2="279.30" stroke="#2c3254" stroke-width="1.45" />
<line x1="898.55" y1="246.00" x2="898.55" y2="279.30" stroke="#2c3254" stroke-width="1.45" />
<line x1="903.20" y1="246.00" x2="903.20" y2="279.30" stroke="#2c3254" stroke-width="1.45" />
<line x1="907.85" y1="246.00" x2="907.85" y2="279.30" stroke="#2c3254" stroke-width="1.45" />
<line x1="912.50" y1="246.00" x2="912.50" y2="279.30" stroke="#2c3254" stroke-width="1.45" />
<line x1="917.15" y1="246.00" x2="917.15" y2="279.30" stroke="#2c3254" stroke-width="1.45" />
<line x1="921.80" y1="246.00" x2="921.80" y2="279.30" stroke="#2c3254" stroke-width="1.45" />
<line x1="926.45" y1="246.00" x2="926.45" y2="279.30" stroke="#2c3254" stroke-width="1.45" />
<line x1="931.10" y1="246.00" x2="931.10" y2="279.30" stroke="#2c3254" stroke-width="1.45" />
<line x1="935.75" y1="246.00" x2="935.75" y2="279.30" stroke="#2c3254" stroke-width="1.45" />
<line x1="940.40" y1="246.00" x2="940.40" y2="279.30" stroke="#2c3254" stroke-width="1.45" />
<line x1="945.05" y1="246.00" x2="945.05" y2="279.30" stroke="#2c3254" stroke-width="1.45" />
<line x1="949.70" y1="246.00" x2="949.70" y2="279.30" stroke="#2c3254" stroke-width="1.45" />
<line x1="954.35" y1="246.00" x2="954.35" y2="279.30" stroke="#2c3254" stroke-width="1.45" />
<line x1="959.00" y1="246.00" x2="959.00" y2="279.30" stroke="#2c3254" stroke-width="1.45" />
<line x1="791.60" y1="279.30" x2="959.00" y2="279.30" stroke="#2c3254" stroke-width="1.8" />
<circle cx="791.60" cy="278.30" r="1.20" fill="#1c2042"/>
<circle cx="796.25" cy="278.30" r="1.20" fill="#1c2042"/>
<circle cx="800.90" cy="278.30" r="1.20" fill="#1c2042"/>
<circle cx="805.55" cy="278.30" r="1.20" fill="#1c2042"/>
<circle cx="810.20" cy="278.30" r="1.20" fill="#1c2042"/>
<circle cx="814.85" cy="278.30" r="1.20" fill="#1c2042"/>
<circle cx="819.50" cy="278.30" r="1.20" fill="#1c2042"/>
<circle cx="824.15" cy="278.30" r="1.20" fill="#1c2042"/>
<circle cx="828.80" cy="278.30" r="1.20" fill="#1c2042"/>
<circle cx="833.45" cy="278.30" r="1.20" fill="#1c2042"/>
<circle cx="838.10" cy="278.30" r="1.20" fill="#1c2042"/>
<circle cx="842.75" cy="278.30" r="1.20" fill="#1c2042"/>
<circle cx="847.40" cy="278.30" r="1.20" fill="#1c2042"/>
<circle cx="852.05" cy="278.30" r="1.20" fill="#1c2042"/>
<circle cx="856.70" cy="278.30" r="1.20" fill="#1c2042"/>
<circle cx="861.35" cy="278.30" r="1.20" fill="#1c2042"/>
<circle cx="866.00" cy="278.30" r="1.20" fill="#1c2042"/>
<circle cx="870.65" cy="278.30" r="1.20" fill="#1c2042"/>
<circle cx="875.30" cy="278.30" r="1.20" fill="#1c2042"/>
<circle cx="879.95" cy="278.30" r="1.20" fill="#1c2042"/>
<circle cx="884.60" cy="278.30" r="1.20" fill="#1c2042"/>
<circle cx="889.25" cy="278.30" r="1.20" fill="#1c2042"/>
<circle cx="893.90" cy="278.30" r="1.20" fill="#1c2042"/>
<circle cx="898.55" cy="278.30" r="1.20" fill="#1c2042"/>
<circle cx="903.20" cy="278.30" r="1.20" fill="#1c2042"/>
<circle cx="907.85" cy="278.30" r="1.20" fill="#1c2042"/>
<circle cx="912.50" cy="278.30" r="1.20" fill="#1c2042"/>
<circle cx="917.15" cy="278.30" r="1.20" fill="#1c2042"/>
<circle cx="921.80" cy="278.30" r="1.20" fill="#1c2042"/>
<circle cx="926.45" cy="278.30" r="1.20" fill="#1c2042"/>
<circle cx="931.10" cy="278.30" r="1.20" fill="#1c2042"/>
<circle cx="935.75" cy="278.30" r="1.20" fill="#1c2042"/>
<circle cx="940.40" cy="278.30" r="1.20" fill="#1c2042"/>
<circle cx="945.05" cy="278.30" r="1.20" fill="#1c2042"/>
<circle cx="949.70" cy="278.30" r="1.20" fill="#1c2042"/>
<circle cx="954.35" cy="278.30" r="1.20" fill="#1c2042"/>
<circle cx="959.00" cy="278.30" r="1.20" fill="#1c2042"/>
<rect x="785.00" y="134.50" width="28.50" height="109.00" rx="0" fill="#edeef0" stroke="#2c3254" stroke-width="1.9"/>
<line x1="785.00" y1="141.00" x2="813.50" y2="141.00" stroke="#2c3254" stroke-width="1.6" />
<line x1="785.00" y1="145.70" x2="813.50" y2="145.70" stroke="#2c3254" stroke-width="1.6" />
<line x1="785.00" y1="150.40" x2="813.50" y2="150.40" stroke="#2c3254" stroke-width="1.6" />
<line x1="785.00" y1="155.10" x2="813.50" y2="155.10" stroke="#2c3254" stroke-width="1.6" />
<line x1="785.00" y1="159.80" x2="813.50" y2="159.80" stroke="#2c3254" stroke-width="1.6" />
<line x1="785.00" y1="164.50" x2="813.50" y2="164.50" stroke="#2c3254" stroke-width="1.6" />
<line x1="785.00" y1="169.20" x2="813.50" y2="169.20" stroke="#2c3254" stroke-width="1.6" />
<line x1="785.00" y1="173.90" x2="813.50" y2="173.90" stroke="#2c3254" stroke-width="1.6" />
<line x1="785.00" y1="178.60" x2="813.50" y2="178.60" stroke="#2c3254" stroke-width="1.6" />
<line x1="785.00" y1="183.30" x2="813.50" y2="183.30" stroke="#2c3254" stroke-width="1.6" />
<line x1="785.00" y1="188.00" x2="813.50" y2="188.00" stroke="#2c3254" stroke-width="1.6" />
<line x1="785.00" y1="192.70" x2="813.50" y2="192.70" stroke="#2c3254" stroke-width="1.6" />
<line x1="785.00" y1="197.40" x2="813.50" y2="197.40" stroke="#2c3254" stroke-width="1.6" />
<line x1="785.00" y1="202.10" x2="813.50" y2="202.10" stroke="#2c3254" stroke-width="1.6" />
<line x1="785.00" y1="206.80" x2="813.50" y2="206.80" stroke="#2c3254" stroke-width="1.6" />
<line x1="785.00" y1="211.50" x2="813.50" y2="211.50" stroke="#2c3254" stroke-width="1.6" />
<line x1="785.00" y1="216.20" x2="813.50" y2="216.20" stroke="#2c3254" stroke-width="1.6" />
<line x1="785.00" y1="220.90" x2="813.50" y2="220.90" stroke="#2c3254" stroke-width="1.6" />
<line x1="785.00" y1="225.60" x2="813.50" y2="225.60" stroke="#2c3254" stroke-width="1.6" />
<line x1="785.00" y1="230.30" x2="813.50" y2="230.30" stroke="#2c3254" stroke-width="1.6" />
<line x1="785.00" y1="235.00" x2="813.50" y2="235.00" stroke="#2c3254" stroke-width="1.6" />
<rect x="781.80" y="134.30" width="31.70" height="6.70" rx="2" fill="#edeef0" stroke="#2c3254" stroke-width="1.8"/>
<rect x="781.80" y="235.30" width="31.70" height="7.70" rx="2" fill="#edeef0" stroke="#2c3254" stroke-width="1.8"/>
<rect x="934.50" y="133.50" width="29.00" height="109.00" rx="0" fill="#edeef0" stroke="#2c3254" stroke-width="1.9"/>
<line x1="934.50" y1="140.00" x2="963.50" y2="140.00" stroke="#2c3254" stroke-width="1.6" />
<line x1="934.50" y1="144.70" x2="963.50" y2="144.70" stroke="#2c3254" stroke-width="1.6" />
<line x1="934.50" y1="149.40" x2="963.50" y2="149.40" stroke="#2c3254" stroke-width="1.6" />
<line x1="934.50" y1="154.10" x2="963.50" y2="154.10" stroke="#2c3254" stroke-width="1.6" />
<line x1="934.50" y1="158.80" x2="963.50" y2="158.80" stroke="#2c3254" stroke-width="1.6" />
<line x1="934.50" y1="163.50" x2="963.50" y2="163.50" stroke="#2c3254" stroke-width="1.6" />
<line x1="934.50" y1="168.20" x2="963.50" y2="168.20" stroke="#2c3254" stroke-width="1.6" />
<line x1="934.50" y1="172.90" x2="963.50" y2="172.90" stroke="#2c3254" stroke-width="1.6" />
<line x1="934.50" y1="177.60" x2="963.50" y2="177.60" stroke="#2c3254" stroke-width="1.6" />
<line x1="934.50" y1="182.30" x2="963.50" y2="182.30" stroke="#2c3254" stroke-width="1.6" />
<line x1="934.50" y1="187.00" x2="963.50" y2="187.00" stroke="#2c3254" stroke-width="1.6" />
<line x1="934.50" y1="191.70" x2="963.50" y2="191.70" stroke="#2c3254" stroke-width="1.6" />
<line x1="934.50" y1="196.40" x2="963.50" y2="196.40" stroke="#2c3254" stroke-width="1.6" />
<line x1="934.50" y1="201.10" x2="963.50" y2="201.10" stroke="#2c3254" stroke-width="1.6" />
<line x1="934.50" y1="205.80" x2="963.50" y2="205.80" stroke="#2c3254" stroke-width="1.6" />
<line x1="934.50" y1="210.50" x2="963.50" y2="210.50" stroke="#2c3254" stroke-width="1.6" />
<line x1="934.50" y1="215.20" x2="963.50" y2="215.20" stroke="#2c3254" stroke-width="1.6" />
<line x1="934.50" y1="219.90" x2="963.50" y2="219.90" stroke="#2c3254" stroke-width="1.6" />
<line x1="934.50" y1="224.60" x2="963.50" y2="224.60" stroke="#2c3254" stroke-width="1.6" />
<line x1="934.50" y1="229.30" x2="963.50" y2="229.30" stroke="#2c3254" stroke-width="1.6" />
<line x1="934.50" y1="234.00" x2="963.50" y2="234.00" stroke="#2c3254" stroke-width="1.6" />
<rect x="934.50" y="133.30" width="31.00" height="6.70" rx="2" fill="#edeef0" stroke="#2c3254" stroke-width="1.8"/>
<rect x="934.50" y="234.00" width="31.00" height="7.50" rx="2" fill="#edeef0" stroke="#2c3254" stroke-width="1.8"/>
<rect x="812.30" y="129.30" width="122.00" height="117.70" rx="0" fill="#edeef0" stroke="#2c3254" stroke-width="1.8"/>
<rect x="819.40" y="134.70" width="110.30" height="107.30" rx="0" fill="#edeef0" stroke="#2c3254" stroke-width="1.7"/>
<circle cx="815.80" cy="132.00" r="1.50" fill="#1c2042"/>
<circle cx="932.00" cy="132.00" r="1.50" fill="#1c2042"/>
<circle cx="815.80" cy="136.52" r="1.50" fill="#1c2042"/>
<circle cx="932.00" cy="136.52" r="1.50" fill="#1c2042"/>
<circle cx="815.80" cy="141.04" r="1.50" fill="#1c2042"/>
<circle cx="932.00" cy="141.04" r="1.50" fill="#1c2042"/>
<circle cx="815.80" cy="145.56" r="1.50" fill="#1c2042"/>
<circle cx="932.00" cy="145.56" r="1.50" fill="#1c2042"/>
<circle cx="815.80" cy="150.08" r="1.50" fill="#1c2042"/>
<circle cx="932.00" cy="150.08" r="1.50" fill="#1c2042"/>
<circle cx="815.80" cy="154.60" r="1.50" fill="#1c2042"/>
<circle cx="932.00" cy="154.60" r="1.50" fill="#1c2042"/>
<circle cx="815.80" cy="159.12" r="1.50" fill="#1c2042"/>
<circle cx="932.00" cy="159.12" r="1.50" fill="#1c2042"/>
<circle cx="815.80" cy="163.64" r="1.50" fill="#1c2042"/>
<circle cx="932.00" cy="163.64" r="1.50" fill="#1c2042"/>
<circle cx="815.80" cy="168.16" r="1.50" fill="#1c2042"/>
<circle cx="932.00" cy="168.16" r="1.50" fill="#1c2042"/>
<circle cx="815.80" cy="172.68" r="1.50" fill="#1c2042"/>
<circle cx="932.00" cy="172.68" r="1.50" fill="#1c2042"/>
<circle cx="815.80" cy="177.20" r="1.50" fill="#1c2042"/>
<circle cx="932.00" cy="177.20" r="1.50" fill="#1c2042"/>
<circle cx="815.80" cy="181.72" r="1.50" fill="#1c2042"/>
<circle cx="932.00" cy="181.72" r="1.50" fill="#1c2042"/>
<circle cx="815.80" cy="186.24" r="1.50" fill="#1c2042"/>
<circle cx="932.00" cy="186.24" r="1.50" fill="#1c2042"/>
<circle cx="815.80" cy="190.76" r="1.50" fill="#1c2042"/>
<circle cx="932.00" cy="190.76" r="1.50" fill="#1c2042"/>
<circle cx="815.80" cy="195.28" r="1.50" fill="#1c2042"/>
<circle cx="932.00" cy="195.28" r="1.50" fill="#1c2042"/>
<circle cx="815.80" cy="199.80" r="1.50" fill="#1c2042"/>
<circle cx="932.00" cy="199.80" r="1.50" fill="#1c2042"/>
<circle cx="815.80" cy="204.32" r="1.50" fill="#1c2042"/>
<circle cx="932.00" cy="204.32" r="1.50" fill="#1c2042"/>
<circle cx="815.80" cy="208.84" r="1.50" fill="#1c2042"/>
<circle cx="932.00" cy="208.84" r="1.50" fill="#1c2042"/>
<circle cx="815.80" cy="213.36" r="1.50" fill="#1c2042"/>
<circle cx="932.00" cy="213.36" r="1.50" fill="#1c2042"/>
<circle cx="815.80" cy="217.88" r="1.50" fill="#1c2042"/>
<circle cx="932.00" cy="217.88" r="1.50" fill="#1c2042"/>
<circle cx="815.80" cy="222.40" r="1.50" fill="#1c2042"/>
<circle cx="932.00" cy="222.40" r="1.50" fill="#1c2042"/>
<circle cx="815.80" cy="226.92" r="1.50" fill="#1c2042"/>
<circle cx="932.00" cy="226.92" r="1.50" fill="#1c2042"/>
<circle cx="815.80" cy="231.44" r="1.50" fill="#1c2042"/>
<circle cx="932.00" cy="231.44" r="1.50" fill="#1c2042"/>
<circle cx="815.80" cy="235.96" r="1.50" fill="#1c2042"/>
<circle cx="932.00" cy="235.96" r="1.50" fill="#1c2042"/>
<circle cx="815.80" cy="240.48" r="1.50" fill="#1c2042"/>
<circle cx="932.00" cy="240.48" r="1.50" fill="#1c2042"/>
<circle cx="815.80" cy="245.00" r="1.50" fill="#1c2042"/>
<circle cx="932.00" cy="245.00" r="1.50" fill="#1c2042"/>
<circle cx="816.00" cy="132.10" r="1.40" fill="#1c2042"/>
<circle cx="816.00" cy="244.30" r="1.40" fill="#1c2042"/>
<circle cx="821.00" cy="132.10" r="1.40" fill="#1c2042"/>
<circle cx="821.00" cy="244.30" r="1.40" fill="#1c2042"/>
<circle cx="826.00" cy="132.10" r="1.40" fill="#1c2042"/>
<circle cx="826.00" cy="244.30" r="1.40" fill="#1c2042"/>
<circle cx="831.00" cy="132.10" r="1.40" fill="#1c2042"/>
<circle cx="831.00" cy="244.30" r="1.40" fill="#1c2042"/>
<circle cx="836.00" cy="132.10" r="1.40" fill="#1c2042"/>
<circle cx="836.00" cy="244.30" r="1.40" fill="#1c2042"/>
<circle cx="841.00" cy="132.10" r="1.40" fill="#1c2042"/>
<circle cx="841.00" cy="244.30" r="1.40" fill="#1c2042"/>
<circle cx="846.00" cy="132.10" r="1.40" fill="#1c2042"/>
<circle cx="846.00" cy="244.30" r="1.40" fill="#1c2042"/>
<circle cx="851.00" cy="132.10" r="1.40" fill="#1c2042"/>
<circle cx="851.00" cy="244.30" r="1.40" fill="#1c2042"/>
<circle cx="856.00" cy="132.10" r="1.40" fill="#1c2042"/>
<circle cx="856.00" cy="244.30" r="1.40" fill="#1c2042"/>
<circle cx="861.00" cy="132.10" r="1.40" fill="#1c2042"/>
<circle cx="861.00" cy="244.30" r="1.40" fill="#1c2042"/>
<circle cx="866.00" cy="132.10" r="1.40" fill="#1c2042"/>
<circle cx="866.00" cy="244.30" r="1.40" fill="#1c2042"/>
<circle cx="871.00" cy="132.10" r="1.40" fill="#1c2042"/>
<circle cx="871.00" cy="244.30" r="1.40" fill="#1c2042"/>
<circle cx="876.00" cy="132.10" r="1.40" fill="#1c2042"/>
<circle cx="876.00" cy="244.30" r="1.40" fill="#1c2042"/>
<circle cx="881.00" cy="132.10" r="1.40" fill="#1c2042"/>
<circle cx="881.00" cy="244.30" r="1.40" fill="#1c2042"/>
<circle cx="886.00" cy="132.10" r="1.40" fill="#1c2042"/>
<circle cx="886.00" cy="244.30" r="1.40" fill="#1c2042"/>
<circle cx="891.00" cy="132.10" r="1.40" fill="#1c2042"/>
<circle cx="891.00" cy="244.30" r="1.40" fill="#1c2042"/>
<circle cx="896.00" cy="132.10" r="1.40" fill="#1c2042"/>
<circle cx="896.00" cy="244.30" r="1.40" fill="#1c2042"/>
<circle cx="901.00" cy="132.10" r="1.40" fill="#1c2042"/>
<circle cx="901.00" cy="244.30" r="1.40" fill="#1c2042"/>
<circle cx="906.00" cy="132.10" r="1.40" fill="#1c2042"/>
<circle cx="906.00" cy="244.30" r="1.40" fill="#1c2042"/>
<circle cx="911.00" cy="132.10" r="1.40" fill="#1c2042"/>
<circle cx="911.00" cy="244.30" r="1.40" fill="#1c2042"/>
<circle cx="916.00" cy="132.10" r="1.40" fill="#1c2042"/>
<circle cx="916.00" cy="244.30" r="1.40" fill="#1c2042"/>
<circle cx="921.00" cy="132.10" r="1.40" fill="#1c2042"/>
<circle cx="921.00" cy="244.30" r="1.40" fill="#1c2042"/>
<circle cx="926.00" cy="132.10" r="1.40" fill="#1c2042"/>
<circle cx="926.00" cy="244.30" r="1.40" fill="#1c2042"/>
<circle cx="931.00" cy="132.10" r="1.40" fill="#1c2042"/>
<circle cx="931.00" cy="244.30" r="1.40" fill="#1c2042"/>
<line x1="874.20" y1="129.50" x2="874.20" y2="246.50" stroke="#2c3254" stroke-width="1.5" />
<line x1="819.40" y1="188.80" x2="929.70" y2="188.80" stroke="#2c3254" stroke-width="1.5" />
<line x1="902.50" y1="118.00" x2="902.50" y2="257.00" stroke="#2c3254" stroke-width="1.5" />
<line x1="908.50" y1="118.00" x2="908.50" y2="257.00" stroke="#2c3254" stroke-width="1.5" />
<path d="M902.5 257 Q905.5 260 908.5 257" fill="none" stroke="#2c3254" stroke-width="1.4" />
<path d="M900.5 131.5 V118 Q900.5 111.5 906 111.5 Q911.5 111.5 912.8 119.5" fill="none" stroke="#edeef0" stroke-width="4.5" />
<path d="M898.6 131.5 V117 Q898.6 109.5 905.5 109.5 Q913 109.5 915 119.5" fill="none" stroke="#2c3254" stroke-width="2.2" />
<path d="M902.5 131.5 V118 Q902.5 113.5 906 113.5 Q909.5 113.5 910.5 119.5" fill="none" stroke="#2c3254" stroke-width="1.3" />
<ellipse cx="844.8" cy="159.5" rx="1.9" ry="5" fill="#1c2042"/>
<path d="M837.8 166.8 L844.8 160.5 L851.8 166.8 L844.8 173 Z" fill="none" stroke="#1c2042" stroke-width="1.5"/>
<circle cx="844.80" cy="166.80" r="3.60" fill="none" stroke="#2c3254" stroke-width="1.6"/>
<line x1="837.30" y1="166.80" x2="852.30" y2="166.80" stroke="#2c3254" stroke-width="1.4" />
<line x1="844.80" y1="160.00" x2="844.80" y2="173.50" stroke="#2c3254" stroke-width="1.4" />
<circle cx="839.30" cy="166.80" r="1.60" fill="#1c2042"/>
<circle cx="850.30" cy="166.80" r="1.60" fill="#1c2042"/>
<circle cx="844.80" cy="171.80" r="1.60" fill="#1c2042"/>
<ellipse cx="874.2" cy="159.5" rx="1.9" ry="5" fill="#1c2042"/>
<path d="M867.2 166.8 L874.2 160.5 L881.2 166.8 L874.2 173 Z" fill="none" stroke="#1c2042" stroke-width="1.5"/>
<circle cx="874.20" cy="166.80" r="3.60" fill="none" stroke="#2c3254" stroke-width="1.6"/>
<line x1="866.70" y1="166.80" x2="881.70" y2="166.80" stroke="#2c3254" stroke-width="1.4" />
<line x1="874.20" y1="160.00" x2="874.20" y2="173.50" stroke="#2c3254" stroke-width="1.4" />
<circle cx="868.70" cy="166.80" r="1.60" fill="#1c2042"/>
<circle cx="879.70" cy="166.80" r="1.60" fill="#1c2042"/>
<circle cx="874.20" cy="171.80" r="1.60" fill="#1c2042"/>
<ellipse cx="903.6" cy="159.5" rx="1.9" ry="5" fill="#1c2042"/>
<path d="M896.6 166.8 L903.6 160.5 L910.6 166.8 L903.6 173 Z" fill="none" stroke="#1c2042" stroke-width="1.5"/>
<circle cx="903.60" cy="166.80" r="3.60" fill="none" stroke="#2c3254" stroke-width="1.6"/>
<line x1="896.10" y1="166.80" x2="911.10" y2="166.80" stroke="#2c3254" stroke-width="1.4" />
<line x1="903.60" y1="160.00" x2="903.60" y2="173.50" stroke="#2c3254" stroke-width="1.4" />
<circle cx="898.10" cy="166.80" r="1.60" fill="#1c2042"/>
<circle cx="909.10" cy="166.80" r="1.60" fill="#1c2042"/>
<circle cx="903.60" cy="171.80" r="1.60" fill="#1c2042"/>
<path d="M853 177.5 L859.5 171 L866 177.5 L859.5 184 Z" fill="none" stroke="#1c2042" stroke-width="1.3"/>
<circle cx="859.50" cy="177.50" r="2.60" fill="none" stroke="#2c3254" stroke-width="1.3"/>
<circle cx="855.30" cy="177.50" r="1.50" fill="#1c2042"/>
<circle cx="863.70" cy="177.50" r="1.50" fill="#1c2042"/>
<circle cx="859.50" cy="173.30" r="1.50" fill="#1c2042"/>
<circle cx="859.50" cy="181.70" r="1.50" fill="#1c2042"/>
<rect x="837.3" y="183.0" width="7" height="2.6" rx="1.2" fill="#1c2042"/>
<rect x="905.5" y="183.0" width="7" height="2.6" rx="1.2" fill="#1c2042"/>
<rect x="837.3" y="206.89999999999998" width="7" height="2.6" rx="1.2" fill="#1c2042"/>
<rect x="905.5" y="206.89999999999998" width="7" height="2.6" rx="1.2" fill="#1c2042"/>
<path d="M884 134.7 V140 Q884 144 888 144 H893 L896.5 139 V134.7" fill="none" stroke="#2c3254" stroke-width="1.5" />
<circle cx="828.80" cy="196.30" r="6.00" fill="none" stroke="#2c3254" stroke-width="1.5"/>
<path d="M828.8 190.3 A6 6 0 0 1 828.8 202.3 Z" fill="#1c2042"/>
<circle cx="920.30" cy="195.70" r="7.00" fill="none" stroke="#2c3254" stroke-width="1.5"/>
<line x1="915.00" y1="191.00" x2="925.50" y2="200.50" stroke="#2c3254" stroke-width="1.2" />
<line x1="925.50" y1="191.00" x2="915.00" y2="200.50" stroke="#2c3254" stroke-width="1.2" />
<circle cx="920.30" cy="195.70" r="1.80" fill="#1c2042"/>
<rect x="837.6" y="221.4" width="60.2" height="17" fill="#1c2042"/>
<rect x="855.1" y="223" width="5.7" height="14" fill="#e8e9ee"/>
<rect x="876.4" y="223" width="6.3" height="14" fill="#e8e9ee"/>
<rect x="842" y="228" width="1.5" height="1.5" fill="#9a9db0"/>
<rect x="850" y="228" width="1.5" height="1.5" fill="#9a9db0"/>
<rect x="866" y="228" width="1.5" height="1.5" fill="#9a9db0"/>
<rect x="872" y="228" width="1.5" height="1.5" fill="#9a9db0"/>
<rect x="888" y="228" width="1.5" height="1.5" fill="#9a9db0"/>
<rect x="893" y="228" width="1.5" height="1.5" fill="#9a9db0"/>
<rect x="902.8" y="223.2" width="10.6" height="13.2" rx="2" fill="#1c2042"/>
<line x1="826.00" y1="230.00" x2="831.60" y2="230.00" stroke="#2c3254" stroke-width="1.1" />
<line x1="828.80" y1="227.20" x2="828.80" y2="232.80" stroke="#2c3254" stroke-width="1.1" />
<line x1="784.20" y1="243.00" x2="784.20" y2="296.50" stroke="#2c3254" stroke-width="1.4" />
<line x1="965.50" y1="245.00" x2="965.50" y2="296.50" stroke="#2c3254" stroke-width="1.4" />
<line x1="784.20" y1="295.50" x2="965.50" y2="295.50" stroke="#2c3254" stroke-width="1.5" />
<ellipse cx="786.20" cy="295.5" rx="2.3" ry="1.8" fill="#1c2042"/>
<path d="M784.20 295.5 L786.20 294.0 L786.20 297.0 Z" fill="#1c2042"/>
<ellipse cx="963.30" cy="295.5" rx="2.3" ry="1.8" fill="#1c2042"/>
<path d="M965.30 295.5 L963.30 294.0 L963.30 297.0 Z" fill="#1c2042"/>
<text x="875.3" y="292.6" font-size="14.5" font-weight="bold" text-anchor="middle" fill="#1c2042" >L</text>
<line x1="958.00" y1="98.30" x2="996.00" y2="98.30" stroke="#2c3254" stroke-width="1.4" />
<line x1="965.00" y1="278.30" x2="997.00" y2="278.30" stroke="#2c3254" stroke-width="1.4" />
<line x1="990.50" y1="98.30" x2="990.50" y2="278.30" stroke="#2c3254" stroke-width="1.5" />
<ellipse cx="990.5" cy="102.20" rx="1.8" ry="2.3" fill="#1c2042"/>
<path d="M990.5 100.20 L989.0 102.20 L992.0 102.20 Z" fill="#1c2042"/>
<ellipse cx="990.5" cy="274.30" rx="1.8" ry="2.3" fill="#1c2042"/>
<path d="M990.5 276.30 L989.0 274.30 L992.0 274.30 Z" fill="#1c2042"/>
<line x1="913.00" y1="119.80" x2="979.50" y2="119.80" stroke="#2c3254" stroke-width="1.4" />
<line x1="909.40" y1="253.40" x2="979.30" y2="253.40" stroke="#2c3254" stroke-width="1.4" />
<line x1="976.30" y1="119.80" x2="976.30" y2="253.40" stroke="#2c3254" stroke-width="1.5" />
<ellipse cx="976.3" cy="123.70" rx="1.8" ry="2.3" fill="#1c2042"/>
<path d="M976.3 121.70 L974.8 123.70 L977.8 123.70 Z" fill="#1c2042"/>
<ellipse cx="976.3" cy="249.30" rx="1.8" ry="2.3" fill="#1c2042"/>
<path d="M976.3 251.30 L974.8 249.30 L977.8 249.30 Z" fill="#1c2042"/>
<text x="977.2" y="187.4" font-size="12.5" font-weight="bold" text-anchor="middle" fill="#1c2042" transform="rotate(-90 977.2 187.4)" letter-spacing="-0.8">E2</text>
<text x="990.8" y="187" font-size="11.5" font-weight="bold" text-anchor="middle" fill="#1c2042" transform="rotate(-90 990.8 187)" >B</text>
<path d="M248.4 448.5 V435.6 Q248.4 432.6 251.4 432.6 H259.6 Q262.6 432.6 262.6 435.6 V448.5" fill="#edeef0" stroke="#2c3254" stroke-width="1.5" />
<line x1="252.94" y1="434.10" x2="252.94" y2="448.50" stroke="#2c3254" stroke-width="1.2" />
<line x1="258.06" y1="434.10" x2="258.06" y2="448.50" stroke="#2c3254" stroke-width="1.2" />
<path d="M243.4 476.2 V451.5 Q243.4 448.5 246.4 448.5 H266.3 Q269.3 448.5 269.3 451.5 V476.2" fill="#edeef0" stroke="#2c3254" stroke-width="1.6" />
<line x1="243.40" y1="452.50" x2="269.30" y2="452.50" stroke="#2c3254" stroke-width="1.0" />
<line x1="243.40" y1="462.80" x2="269.30" y2="462.80" stroke="#2c3254" stroke-width="1.3" />
<line x1="252.94" y1="448.50" x2="252.94" y2="476.20" stroke="#2c3254" stroke-width="1.3" />
<line x1="258.06" y1="448.50" x2="258.06" y2="476.20" stroke="#2c3254" stroke-width="1.3" />
<circle cx="252.94" cy="462.80" r="1.30" fill="#1c2042"/>
<circle cx="258.06" cy="462.80" r="1.30" fill="#1c2042"/>
<rect x="240.40" y="476.20" width="31.90" height="3.30" rx="1.5" fill="#edeef0" stroke="#2c3254" stroke-width="1.5"/>
<rect x="245.40" y="479.50" width="21.90" height="5.00" rx="0" fill="#edeef0" stroke="#2c3254" stroke-width="1.4"/>
<line x1="252.94" y1="479.50" x2="252.94" y2="484.50" stroke="#2c3254" stroke-width="1.2" />
<line x1="258.06" y1="479.50" x2="258.06" y2="484.50" stroke="#2c3254" stroke-width="1.2" />
<rect x="240.40" y="484.50" width="31.90" height="3.40" rx="1.5" fill="#edeef0" stroke="#2c3254" stroke-width="1.5"/>
<rect x="243.40" y="487.90" width="25.90" height="10.80" rx="0" fill="#edeef0" stroke="#2c3254" stroke-width="1.6"/>
<line x1="252.94" y1="487.90" x2="252.94" y2="498.70" stroke="#2c3254" stroke-width="1.2" />
<line x1="258.06" y1="487.90" x2="258.06" y2="498.70" stroke="#2c3254" stroke-width="1.2" />
<line x1="243.40" y1="494.30" x2="269.30" y2="494.30" stroke="#2c3254" stroke-width="1.0" />
<line x1="248.40" y1="417.20" x2="307.80" y2="417.20" stroke="#2c3254" stroke-width="1.4" />
<line x1="248.40" y1="417.00" x2="248.40" y2="433.00" stroke="#2c3254" stroke-width="1.3" />
<line x1="262.60" y1="417.00" x2="262.60" y2="433.00" stroke="#2c3254" stroke-width="1.3" />
<ellipse cx="267.6" cy="417.2" rx="2.4" ry="1.7" fill="#1c2042"/>
<ellipse cx="282.7" cy="417.2" rx="2.4" ry="1.7" fill="#1c2042"/>
<text x="295" y="413.5" font-size="13.5" font-weight="bold" text-anchor="middle" fill="#1c2042" >M12</text>
<line x1="262.60" y1="431.80" x2="297.80" y2="431.80" stroke="#2c3254" stroke-width="1.3" />
<line x1="273.50" y1="485.40" x2="297.80" y2="485.40" stroke="#2c3254" stroke-width="1.3" />
<line x1="294.40" y1="431.80" x2="294.40" y2="485.40" stroke="#2c3254" stroke-width="1.5" />
<ellipse cx="294.4" cy="436.20" rx="1.8" ry="2.3" fill="#1c2042"/>
<path d="M294.4 434.20 L292.9 436.20 L295.9 436.20 Z" fill="#1c2042"/>
<ellipse cx="294.4" cy="480.80" rx="1.8" ry="2.3" fill="#1c2042"/>
<path d="M294.4 482.80 L292.9 480.80 L295.9 480.80 Z" fill="#1c2042"/>
<text x="290.5" y="460.2" font-size="13.5" font-weight="bold" text-anchor="middle" fill="#1c2042" transform="rotate(-90 290.5 460.2)" >35</text>
<path d="M390.2 434.8 V419.5 Q390.2 416.5 393.2 416.5 H403.5 Q406.5 416.5 406.5 419.5 V434.8" fill="#edeef0" stroke="#2c3254" stroke-width="1.5" />
<line x1="395.42" y1="418.00" x2="395.42" y2="434.80" stroke="#2c3254" stroke-width="1.2" />
<line x1="401.28" y1="418.00" x2="401.28" y2="434.80" stroke="#2c3254" stroke-width="1.2" />
<path d="M385.4 466.5 V437.8 Q385.4 434.8 388.4 434.8 H408.9 Q411.9 434.8 411.9 437.8 V466.5" fill="#edeef0" stroke="#2c3254" stroke-width="1.6" />
<line x1="385.40" y1="438.80" x2="411.90" y2="438.80" stroke="#2c3254" stroke-width="1.0" />
<line x1="385.40" y1="451.20" x2="411.90" y2="451.20" stroke="#2c3254" stroke-width="1.3" />
<line x1="395.42" y1="434.80" x2="395.42" y2="466.50" stroke="#2c3254" stroke-width="1.3" />
<line x1="401.28" y1="434.80" x2="401.28" y2="466.50" stroke="#2c3254" stroke-width="1.3" />
<circle cx="395.42" cy="451.20" r="1.30" fill="#1c2042"/>
<circle cx="401.28" cy="451.20" r="1.30" fill="#1c2042"/>
<rect x="382.40" y="466.50" width="32.50" height="3.90" rx="1.5" fill="#edeef0" stroke="#2c3254" stroke-width="1.5"/>
<rect x="387.40" y="470.40" width="22.50" height="5.80" rx="0" fill="#edeef0" stroke="#2c3254" stroke-width="1.4"/>
<line x1="395.42" y1="470.40" x2="395.42" y2="476.20" stroke="#2c3254" stroke-width="1.2" />
<line x1="401.28" y1="470.40" x2="401.28" y2="476.20" stroke="#2c3254" stroke-width="1.2" />
<rect x="382.40" y="476.20" width="32.50" height="4.80" rx="1.5" fill="#edeef0" stroke="#2c3254" stroke-width="1.5"/>
<rect x="385.40" y="481.00" width="26.50" height="7.70" rx="0" fill="#edeef0" stroke="#2c3254" stroke-width="1.6"/>
<line x1="395.42" y1="481.00" x2="395.42" y2="488.70" stroke="#2c3254" stroke-width="1.2" />
<line x1="401.28" y1="481.00" x2="401.28" y2="488.70" stroke="#2c3254" stroke-width="1.2" />
<line x1="385.40" y1="485.85" x2="411.90" y2="485.85" stroke="#2c3254" stroke-width="1.0" />
<line x1="373.80" y1="404.60" x2="450.80" y2="404.60" stroke="#2c3254" stroke-width="1.4" />
<line x1="390.20" y1="398.30" x2="390.20" y2="418.00" stroke="#2c3254" stroke-width="1.3" />
<line x1="406.50" y1="398.30" x2="406.50" y2="418.00" stroke="#2c3254" stroke-width="1.3" />
<ellipse cx="386.3" cy="404.6" rx="2.4" ry="1.7" fill="#1c2042"/>
<ellipse cx="410.4" cy="404.6" rx="2.4" ry="1.7" fill="#1c2042"/>
<text x="438.7" y="399.2" font-size="13.5" font-weight="bold" text-anchor="middle" fill="#1c2042" >M12</text>
<line x1="406.50" y1="417.50" x2="446.00" y2="417.50" stroke="#2c3254" stroke-width="1.3" />
<line x1="417.00" y1="475.20" x2="446.00" y2="475.20" stroke="#2c3254" stroke-width="1.3" />
<line x1="443.10" y1="417.50" x2="443.10" y2="475.20" stroke="#2c3254" stroke-width="1.5" />
<ellipse cx="443.1" cy="421.70" rx="1.8" ry="2.3" fill="#1c2042"/>
<path d="M443.1 419.70 L441.6 421.70 L444.6 421.70 Z" fill="#1c2042"/>
<ellipse cx="443.1" cy="470.80" rx="1.8" ry="2.3" fill="#1c2042"/>
<path d="M443.1 472.80 L441.6 470.80 L444.6 470.80 Z" fill="#1c2042"/>
<text x="438.5" y="448.3" font-size="13.5" font-weight="bold" text-anchor="middle" fill="#1c2042" transform="rotate(-90 438.5 448.3)" >35</text>
<text x="395.2" y="521.5" font-size="13.5" font-weight="bold" text-anchor="start" fill="#1c2042" stroke="#1c2042" stroke-width="0.35">图1</text>
<path d="M543 472.3 V479 Q547 476 552 479 T561 479 Q565 476 567 479 V472.3" fill="none" stroke="#2c3254" stroke-width="1.3" />
<rect x="532.20" y="416.10" width="44.10" height="56.20" rx="0" fill="#edeef0" stroke="#2c3254" stroke-width="1.6"/>
<path d="M547 429.3 Q554 423 561 429.3 Q554 435.6 547 429.3 Z" fill="none" stroke="#2c3254" stroke-width="1.6" />
<circle cx="554.00" cy="429.30" r="3.00" fill="none" stroke="#2c3254" stroke-width="1.3"/>
<circle cx="548.00" cy="429.30" r="1.60" fill="#1c2042"/>
<circle cx="560.00" cy="429.30" r="1.60" fill="#1c2042"/>
<circle cx="554.00" cy="429.30" r="1.40" fill="#1c2042"/>
<line x1="565.00" y1="429.30" x2="600.40" y2="429.30" stroke="#2c3254" stroke-width="1.4" />
<circle cx="600.40" cy="429.30" r="1.90" fill="#1c2042"/>
<circle cx="554.00" cy="453.90" r="5.00" fill="none" stroke="#2c3254" stroke-width="1.5"/>
<circle cx="550.50" cy="453.90" r="1.50" fill="#1c2042"/>
<circle cx="557.50" cy="453.90" r="1.50" fill="#1c2042"/>
<line x1="565.00" y1="454.50" x2="600.40" y2="454.50" stroke="#2c3254" stroke-width="1.4" />
<circle cx="600.40" cy="454.50" r="1.90" fill="#1c2042"/>
<line x1="554.00" y1="416.10" x2="554.00" y2="424.00" stroke="#2c3254" stroke-width="1.3" />
<line x1="554.00" y1="435.00" x2="554.00" y2="447.00" stroke="#2c3254" stroke-width="1.3" />
<line x1="554.00" y1="460.00" x2="554.00" y2="472.30" stroke="#2c3254" stroke-width="1.3" />
<circle cx="554.00" cy="416.10" r="1.50" fill="#1c2042"/>
<circle cx="554.00" cy="472.30" r="1.50" fill="#1c2042"/>
<line x1="532.20" y1="404.60" x2="576.30" y2="404.60" stroke="#2c3254" stroke-width="1.4" />
<line x1="532.20" y1="404.00" x2="532.20" y2="416.00" stroke="#2c3254" stroke-width="1.3" />
<line x1="576.30" y1="404.00" x2="576.30" y2="416.00" stroke="#2c3254" stroke-width="1.3" />
<ellipse cx="533.90" cy="404.6" rx="2.3" ry="1.8" fill="#1c2042"/>
<path d="M531.90 404.6 L533.90 403.1 L533.90 406.1 Z" fill="#1c2042"/>
<ellipse cx="574.60" cy="404.6" rx="2.3" ry="1.8" fill="#1c2042"/>
<path d="M576.60 404.6 L574.60 403.1 L574.60 406.1 Z" fill="#1c2042"/>
<text x="555.75" y="400" font-size="13" font-weight="bold" text-anchor="middle" fill="#1c2042" >b</text>
<line x1="600.40" y1="412.00" x2="600.40" y2="472.30" stroke="#2c3254" stroke-width="1.4" />
<text x="598" y="442.2" font-size="13" font-weight="bold" text-anchor="middle" fill="#1c2042" transform="rotate(-90 598 442.2)" >b1</text>
<line x1="576.30" y1="416.10" x2="630.00" y2="416.10" stroke="#2c3254" stroke-width="1.3" />
<line x1="576.30" y1="472.30" x2="630.00" y2="472.30" stroke="#2c3254" stroke-width="1.3" />
<line x1="624.00" y1="416.10" x2="624.00" y2="472.30" stroke="#2c3254" stroke-width="1.5" />
<ellipse cx="624" cy="420.20" rx="1.8" ry="2.3" fill="#1c2042"/>
<path d="M624 418.20 L622.5 420.20 L625.5 420.20 Z" fill="#1c2042"/>
<ellipse cx="624" cy="468.30" rx="1.8" ry="2.3" fill="#1c2042"/>
<path d="M624 470.30 L622.5 468.30 L625.5 468.30 Z" fill="#1c2042"/>
<text x="620.7" y="441.5" font-size="13.5" font-weight="bold" text-anchor="middle" fill="#1c2042" transform="rotate(-90 620.7 441.5)" >55</text>
<text x="506.3" y="417.5" font-size="12" font-weight="bold" text-anchor="middle" fill="#1c2042" >σ</text>
<path d="M502.7 426.8 H528 L537.5 434.8" fill="none" stroke="#2c3254" stroke-width="1.2" />
<text x="493.8" y="474.8" font-size="15" font-weight="bold" text-anchor="start" fill="#1c2042" >2-</text>
<path d="M515.9 464.8 L519.8 470.7 L515.9 476.6 L512 470.7 Z" fill="#1c2042"/>
<rect x="515.2" y="469.5" width="1.4" height="2.4" fill="#9da1b5"/>
<text x="523.3" y="474.8" font-size="15" font-weight="bold" text-anchor="start" fill="#1c2042" >d</text>
<path d="M493.4 480.3 H529.5 L569.6 437.5" fill="none" stroke="#2c3254" stroke-width="1.2" />
<circle cx="562.20" cy="447.50" r="2.10" fill="#1c2042"/>
<circle cx="547.60" cy="462.00" r="2.10" fill="#1c2042"/>
<text x="552.2" y="522.5" font-size="13.5" font-weight="bold" text-anchor="start" fill="#1c2042" stroke="#1c2042" stroke-width="0.35">图2</text>
<path d="M714 472.3 V479 Q718 476 723 479 T732 479 Q736 476 738 479 V472.3" fill="none" stroke="#2c3254" stroke-width="1.3" />
<rect x="703.20" y="416.10" width="44.10" height="56.20" rx="0" fill="#edeef0" stroke="#2c3254" stroke-width="1.6"/>
<path d="M718 429.3 Q725 423 732 429.3 Q725 435.6 718 429.3 Z" fill="none" stroke="#2c3254" stroke-width="1.6" />
<circle cx="725.00" cy="429.30" r="3.00" fill="none" stroke="#2c3254" stroke-width="1.3"/>
<circle cx="719.00" cy="429.30" r="1.60" fill="#1c2042"/>
<circle cx="731.00" cy="429.30" r="1.60" fill="#1c2042"/>
<circle cx="725.00" cy="429.30" r="1.40" fill="#1c2042"/>
<line x1="736.00" y1="429.30" x2="771.40" y2="429.30" stroke="#2c3254" stroke-width="1.4" />
<circle cx="771.40" cy="429.30" r="1.90" fill="#1c2042"/>
<circle cx="725.00" cy="453.90" r="5.00" fill="none" stroke="#2c3254" stroke-width="1.5"/>
<circle cx="721.50" cy="453.90" r="1.50" fill="#1c2042"/>
<circle cx="728.50" cy="453.90" r="1.50" fill="#1c2042"/>
<line x1="736.00" y1="454.50" x2="771.40" y2="454.50" stroke="#2c3254" stroke-width="1.4" />
<circle cx="771.40" cy="454.50" r="1.90" fill="#1c2042"/>
<line x1="725.00" y1="416.10" x2="725.00" y2="424.00" stroke="#2c3254" stroke-width="1.3" />
<line x1="725.00" y1="435.00" x2="725.00" y2="447.00" stroke="#2c3254" stroke-width="1.3" />
<line x1="725.00" y1="460.00" x2="725.00" y2="472.30" stroke="#2c3254" stroke-width="1.3" />
<circle cx="725.00" cy="416.10" r="1.50" fill="#1c2042"/>
<circle cx="725.00" cy="472.30" r="1.50" fill="#1c2042"/>
<line x1="703.20" y1="404.60" x2="747.30" y2="404.60" stroke="#2c3254" stroke-width="1.4" />
<line x1="703.20" y1="404.00" x2="703.20" y2="416.00" stroke="#2c3254" stroke-width="1.3" />
<line x1="747.30" y1="404.00" x2="747.30" y2="416.00" stroke="#2c3254" stroke-width="1.3" />
<ellipse cx="704.90" cy="404.6" rx="2.3" ry="1.8" fill="#1c2042"/>
<path d="M702.90 404.6 L704.90 403.1 L704.90 406.1 Z" fill="#1c2042"/>
<ellipse cx="745.60" cy="404.6" rx="2.3" ry="1.8" fill="#1c2042"/>
<path d="M747.60 404.6 L745.60 403.1 L745.60 406.1 Z" fill="#1c2042"/>
<text x="726.75" y="400" font-size="13" font-weight="bold" text-anchor="middle" fill="#1c2042" >b</text>
<line x1="771.40" y1="412.00" x2="771.40" y2="472.30" stroke="#2c3254" stroke-width="1.4" />
<text x="769" y="442.2" font-size="13" font-weight="bold" text-anchor="middle" fill="#1c2042" transform="rotate(-90 769 442.2)" >b1</text>
<line x1="747.30" y1="416.10" x2="801.00" y2="416.10" stroke="#2c3254" stroke-width="1.3" />
<line x1="747.30" y1="472.30" x2="801.00" y2="472.30" stroke="#2c3254" stroke-width="1.3" />
<line x1="795.00" y1="416.10" x2="795.00" y2="472.30" stroke="#2c3254" stroke-width="1.5" />
<ellipse cx="795" cy="420.20" rx="1.8" ry="2.3" fill="#1c2042"/>
<path d="M795 418.20 L793.5 420.20 L796.5 420.20 Z" fill="#1c2042"/>
<ellipse cx="795" cy="468.30" rx="1.8" ry="2.3" fill="#1c2042"/>
<path d="M795 470.30 L793.5 468.30 L796.5 468.30 Z" fill="#1c2042"/>
<text x="791.7" y="441.5" font-size="13.5" font-weight="bold" text-anchor="middle" fill="#1c2042" transform="rotate(-90 791.7 441.5)" >65</text>
<text x="677.3" y="417.5" font-size="12" font-weight="bold" text-anchor="middle" fill="#1c2042" >σ</text>
<path d="M673.7 426.8 H699 L708.5 434.8" fill="none" stroke="#2c3254" stroke-width="1.2" />
<text x="664.8" y="474.8" font-size="15" font-weight="bold" text-anchor="start" fill="#1c2042" >2-</text>
<path d="M686.9 464.8 L690.8 470.7 L686.9 476.6 L683 470.7 Z" fill="#1c2042"/>
<rect x="686.2" y="469.5" width="1.4" height="2.4" fill="#9da1b5"/>
<text x="694.3" y="474.8" font-size="15" font-weight="bold" text-anchor="start" fill="#1c2042" >d</text>
<path d="M664.4 480.3 H700.5 L740.6 437.5" fill="none" stroke="#2c3254" stroke-width="1.2" />
<circle cx="733.20" cy="447.50" r="2.10" fill="#1c2042"/>
<circle cx="718.60" cy="462.00" r="2.10" fill="#1c2042"/>
<text x="716.1" y="522.5" font-size="13.5" font-weight="bold" text-anchor="start" fill="#1c2042" stroke="#1c2042" stroke-width="0.35">图3</text>
<path d="M894.6 482.3 V494.5 Q903 492 912 494.5 T930.7 494.5 V482.3" fill="none" stroke="#2c3254" stroke-width="1.4" />
<rect x="880.30" y="415.30" width="65.20" height="67.00" rx="0" fill="#edeef0" stroke="#2c3254" stroke-width="1.7"/>
<circle cx="893.40" cy="429.30" r="6.20" fill="none" stroke="#2c3254" stroke-width="1.5"/>
<line x1="885.70" y1="429.30" x2="901.10" y2="429.30" stroke="#2c3254" stroke-width="1.4" />
<circle cx="888.20" cy="429.30" r="1.70" fill="#1c2042"/>
<circle cx="898.60" cy="429.30" r="1.70" fill="#1c2042"/>
<circle cx="893.40" cy="424.30" r="1.60" fill="#1c2042"/>
<circle cx="893.40" cy="429.30" r="1.30" fill="#1c2042"/>
<circle cx="893.40" cy="467.20" r="6.20" fill="none" stroke="#2c3254" stroke-width="1.5"/>
<line x1="885.70" y1="467.20" x2="901.10" y2="467.20" stroke="#2c3254" stroke-width="1.4" />
<circle cx="888.20" cy="467.20" r="1.70" fill="#1c2042"/>
<circle cx="898.60" cy="467.20" r="1.70" fill="#1c2042"/>
<circle cx="893.40" cy="462.20" r="1.60" fill="#1c2042"/>
<circle cx="893.40" cy="467.20" r="1.30" fill="#1c2042"/>
<circle cx="929.20" cy="429.30" r="6.20" fill="none" stroke="#2c3254" stroke-width="1.5"/>
<line x1="921.50" y1="429.30" x2="936.90" y2="429.30" stroke="#2c3254" stroke-width="1.4" />
<circle cx="924.00" cy="429.30" r="1.70" fill="#1c2042"/>
<circle cx="934.40" cy="429.30" r="1.70" fill="#1c2042"/>
<circle cx="929.20" cy="424.30" r="1.60" fill="#1c2042"/>
<circle cx="929.20" cy="429.30" r="1.30" fill="#1c2042"/>
<circle cx="929.20" cy="467.20" r="6.20" fill="none" stroke="#2c3254" stroke-width="1.5"/>
<line x1="921.50" y1="467.20" x2="936.90" y2="467.20" stroke="#2c3254" stroke-width="1.4" />
<circle cx="924.00" cy="467.20" r="1.70" fill="#1c2042"/>
<circle cx="934.40" cy="467.20" r="1.70" fill="#1c2042"/>
<circle cx="929.20" cy="462.20" r="1.60" fill="#1c2042"/>
<circle cx="929.20" cy="467.20" r="1.30" fill="#1c2042"/>
<line x1="903.00" y1="429.30" x2="919.00" y2="429.30" stroke="#2c3254" stroke-width="1.5" />
<line x1="903.00" y1="467.20" x2="919.00" y2="467.20" stroke="#2c3254" stroke-width="1.5" />
<line x1="893.40" y1="440.00" x2="893.40" y2="457.00" stroke="#2c3254" stroke-width="1.5" />
<line x1="929.20" y1="440.00" x2="929.20" y2="457.00" stroke="#2c3254" stroke-width="1.5" />
<line x1="880.30" y1="378.00" x2="880.30" y2="415.30" stroke="#2c3254" stroke-width="1.3" />
<line x1="945.50" y1="378.00" x2="945.50" y2="415.30" stroke="#2c3254" stroke-width="1.3" />
<line x1="880.30" y1="381.70" x2="945.50" y2="381.70" stroke="#2c3254" stroke-width="1.4" />
<ellipse cx="882.00" cy="381.7" rx="2.3" ry="1.8" fill="#1c2042"/>
<path d="M880.00 381.7 L882.00 380.2 L882.00 383.2 Z" fill="#1c2042"/>
<ellipse cx="943.80" cy="381.7" rx="2.3" ry="1.8" fill="#1c2042"/>
<path d="M945.80 381.7 L943.80 380.2 L943.80 383.2 Z" fill="#1c2042"/>
<text x="913" y="378.5" font-size="12.5" font-weight="bold" text-anchor="middle" fill="#1c2042" >b</text>
<line x1="893.40" y1="405.20" x2="929.20" y2="405.20" stroke="#2c3254" stroke-width="1.4" />
<line x1="893.40" y1="405.00" x2="893.40" y2="423.00" stroke="#2c3254" stroke-width="1.3" />
<line x1="929.20" y1="405.00" x2="929.20" y2="423.00" stroke="#2c3254" stroke-width="1.3" />
<circle cx="893.40" cy="415.30" r="1.60" fill="#1c2042"/>
<circle cx="929.20" cy="415.30" r="1.60" fill="#1c2042"/>
<ellipse cx="895.10" cy="405.2" rx="2.3" ry="1.8" fill="#1c2042"/>
<path d="M893.10 405.2 L895.10 403.7 L895.10 406.7 Z" fill="#1c2042"/>
<ellipse cx="927.50" cy="405.2" rx="2.3" ry="1.8" fill="#1c2042"/>
<path d="M929.50 405.2 L927.50 403.7 L927.50 406.7 Z" fill="#1c2042"/>
<text x="912" y="401.5" font-size="12.5" font-weight="bold" text-anchor="middle" fill="#1c2042" >b1</text>
<line x1="937.00" y1="429.30" x2="975.00" y2="429.30" stroke="#2c3254" stroke-width="1.3" />
<line x1="937.00" y1="467.20" x2="975.00" y2="467.20" stroke="#2c3254" stroke-width="1.3" />
<circle cx="945.50" cy="429.30" r="1.60" fill="#1c2042"/>
<circle cx="945.50" cy="467.20" r="1.60" fill="#1c2042"/>
<line x1="970.50" y1="429.30" x2="970.50" y2="467.20" stroke="#2c3254" stroke-width="1.4" />
<ellipse cx="970.5" cy="433.20" rx="1.8" ry="2.3" fill="#1c2042"/>
<path d="M970.5 431.20 L969.0 433.20 L972.0 433.20 Z" fill="#1c2042"/>
<ellipse cx="970.5" cy="463.30" rx="1.8" ry="2.3" fill="#1c2042"/>
<path d="M970.5 465.30 L969.0 463.30 L972.0 463.30 Z" fill="#1c2042"/>
<text x="967.5" y="448.2" font-size="12.5" font-weight="bold" text-anchor="middle" fill="#1c2042" transform="rotate(-90 967.5 448.2)" >b1</text>
<line x1="949.40" y1="415.30" x2="995.00" y2="415.30" stroke="#2c3254" stroke-width="1.3" />
<line x1="949.40" y1="482.30" x2="995.00" y2="482.30" stroke="#2c3254" stroke-width="1.3" />
<line x1="991.00" y1="415.30" x2="991.00" y2="482.30" stroke="#2c3254" stroke-width="1.5" />
<ellipse cx="991" cy="419.20" rx="1.8" ry="2.3" fill="#1c2042"/>
<path d="M991 417.20 L989.5 419.20 L992.5 419.20 Z" fill="#1c2042"/>
<ellipse cx="991" cy="478.30" rx="1.8" ry="2.3" fill="#1c2042"/>
<path d="M991 480.30 L989.5 478.30 L992.5 478.30 Z" fill="#1c2042"/>
<text x="987.2" y="449.5" font-size="12.5" font-weight="bold" text-anchor="middle" fill="#1c2042" transform="rotate(-90 987.2 449.5)" >b</text>
<text x="858.3" y="429.5" font-size="12.5" font-weight="bold" text-anchor="middle" fill="#1c2042" >σ</text>
<path d="M850 432.2 H870 L887.7 444.3" fill="none" stroke="#2c3254" stroke-width="1.3" />
<text x="832.3" y="484.6" font-size="14" font-weight="bold" text-anchor="start" fill="#1c2042" >4-</text>
<path d="M854.4 475.5 L858.2 481.4 L854.4 487.3 L850.6 481.4 Z" fill="#1c2042"/>
<rect x="853.7" y="480.2" width="1.4" height="2.4" fill="#9da1b5"/>
<text x="861.3" y="484.6" font-size="14" font-weight="bold" text-anchor="start" fill="#1c2042" >d</text>
<path d="M834 490 H870.5 L910.3 453.3" fill="none" stroke="#2c3254" stroke-width="1.4" />
<circle cx="902.10" cy="460.50" r="2.10" fill="#1c2042"/>
<circle cx="885.50" cy="475.50" r="2.10" fill="#1c2042"/>
<text x="899.4" y="517.5" font-size="13.5" font-weight="bold" text-anchor="start" fill="#1c2042" stroke="#1c2042" stroke-width="0.35">图4</text>
</svg>
<div class="t" id="h1" style="left:18px;top:12px;font-size:36px;color:#fff">产品结构</div>
<div class="t" id="h2" style="left:171.5px;top:27.5px;font-size:16.5px;color:#fff">Schemztic</div>
<div class="t" id="s1" style="left:24px;top:188px;font-size:18.5px;font-weight:bold;-webkit-text-stroke:0.4px #141838">结构简图</div>
<div class="t" id="s2" style="left:24px;top:211px;font-size:18.5px;letter-spacing:-0.1px;-webkit-text-stroke:0.65px #141838">Schematic</div>
<div class="t" id="s3" style="left:24px;top:441px;font-size:18.5px;font-weight:bold;-webkit-text-stroke:0.4px #141838">接线端子</div>
<div class="t" id="s4" style="left:23.5px;top:462px;font-size:18.5px;letter-spacing:0.1px;word-spacing:-2px;-webkit-text-stroke:0.65px #141838">Terminal Blocks</div>
<div class="t" id="c1" style="left:531.5px;top:313.5px;font-size:17px;font-weight:bold">80~1600kVA</div>
<div class="t" id="c2" style="left:826px;top:313.5px;font-size:17px;font-weight:bold">2000~2500kVA</div>
<div class="t" id="c3" style="left:292px;top:545px;font-size:16.2px;font-weight:bold;text-shadow:0.25px 0 0 #141838">高压接线端子<span style="font-weight:normal;font-size:17px;text-shadow:none;-webkit-text-stroke:0.7px #141838">High Terminal Block</span></div>
<div class="t" id="c4" style="left:635px;top:545px;font-size:16.2px;font-weight:bold;text-shadow:0.25px 0 0 #141838">低压接线端子<span style="font-weight:normal;font-size:17px;text-shadow:none;-webkit-text-stroke:0.7px #141838">Low Terminal Blocks</span></div>
</body></html>
